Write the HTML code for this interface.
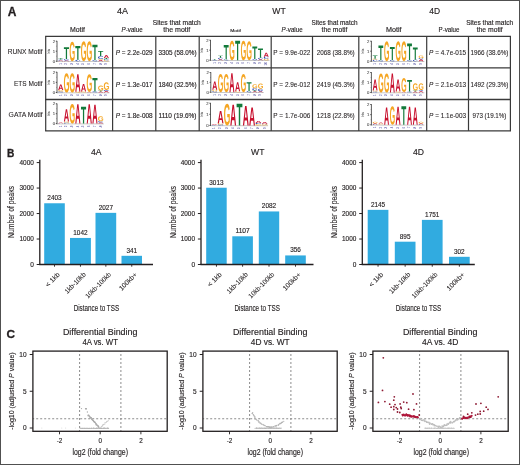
<!DOCTYPE html>
<html><head><meta charset="utf-8"><style>
html,body{margin:0;padding:0;background:#fff;width:520px;height:465px;overflow:hidden;}
svg{display:block;will-change:transform;}
text{font-family:"Liberation Sans", sans-serif;}
</style></head><body>
<svg width="520" height="465" viewBox="0 0 520 465">
<defs><path id="gA" d="M1133 0 1008 360H471L346 0H51L565 1409H913L1425 0ZM739 1192 733 1170Q723 1134 709.0 1088.0Q695 1042 537 582H942L803 987L760 1123Z"/><path id="gC" d="M795 212Q1062 212 1166 480L1423 383Q1340 179 1179.5 79.5Q1019 -20 795 -20Q455 -20 269.5 172.5Q84 365 84 711Q84 1058 263.0 1244.0Q442 1430 782 1430Q1030 1430 1186.0 1330.5Q1342 1231 1405 1038L1145 967Q1112 1073 1015.5 1135.5Q919 1198 788 1198Q588 1198 484.5 1074.0Q381 950 381 711Q381 468 487.5 340.0Q594 212 795 212Z"/><path id="gG" d="M806 211Q921 211 1029.0 244.5Q1137 278 1196 330V525H852V743H1466V225Q1354 110 1174.5 45.0Q995 -20 798 -20Q454 -20 269.0 170.5Q84 361 84 711Q84 1059 270.0 1244.5Q456 1430 805 1430Q1301 1430 1436 1063L1164 981Q1120 1088 1026.0 1143.0Q932 1198 805 1198Q597 1198 489.0 1072.0Q381 946 381 711Q381 472 492.5 341.5Q604 211 806 211Z"/><path id="gT" d="M773 1181V0H478V1181H23V1409H1229V1181Z"/></defs>
<rect width="520" height="465" fill="#fff"/>
<g fill="#231f20" font-family='"Liberation Sans", sans-serif'>
<rect x="0.5" y="0.5" width="519" height="464" fill="none" stroke="#505050" stroke-width="1"/>
<text x="7.80" y="16.10" font-size="12" stroke="#231f20" stroke-width="0.3" font-weight="bold">A</text>
<text x="122.60" y="13.50" font-size="8.2" stroke="#231f20" stroke-width="0.14" text-anchor="middle" textLength="11" lengthAdjust="spacingAndGlyphs">4A</text>
<text x="279.00" y="13.70" font-size="8.2" stroke="#231f20" stroke-width="0.14" text-anchor="middle" textLength="13.4" lengthAdjust="spacingAndGlyphs">WT</text>
<text x="434.60" y="13.50" font-size="8.2" stroke="#231f20" stroke-width="0.14" text-anchor="middle" textLength="10.8" lengthAdjust="spacingAndGlyphs">4D</text>
<text x="77.50" y="31.90" font-size="6.3" stroke="#231f20" stroke-width="0.14" text-anchor="middle" textLength="15" lengthAdjust="spacingAndGlyphs">Motif</text>
<text x="121.60" y="32.20" font-size="6.3" stroke="#231f20" stroke-width="0.14" textLength="21" lengthAdjust="spacingAndGlyphs"><tspan font-style="italic">P</tspan>-value</text>
<text x="176.80" y="24.50" font-size="6.3" stroke="#231f20" stroke-width="0.14" text-anchor="middle" textLength="48" lengthAdjust="spacingAndGlyphs">Sites that match</text>
<text x="176.80" y="32.20" font-size="6.3" stroke="#231f20" stroke-width="0.14" text-anchor="middle" textLength="27" lengthAdjust="spacingAndGlyphs">the motif</text>
<text x="235.60" y="32.00" font-size="4.4" stroke="#231f20" stroke-width="0.14" text-anchor="middle" textLength="10.8" lengthAdjust="spacingAndGlyphs">Motif</text>
<text x="281.60" y="32.20" font-size="6.3" stroke="#231f20" stroke-width="0.14" textLength="21" lengthAdjust="spacingAndGlyphs"><tspan font-style="italic">P</tspan>-value</text>
<text x="334.50" y="24.50" font-size="6.3" stroke="#231f20" stroke-width="0.14" text-anchor="middle" textLength="46" lengthAdjust="spacingAndGlyphs">Sites that match</text>
<text x="334.50" y="32.20" font-size="6.3" stroke="#231f20" stroke-width="0.14" text-anchor="middle" textLength="26" lengthAdjust="spacingAndGlyphs">the motif</text>
<text x="393.80" y="31.90" font-size="6.3" stroke="#231f20" stroke-width="0.14" text-anchor="middle" textLength="15.6" lengthAdjust="spacingAndGlyphs">Motif</text>
<text x="438.50" y="32.20" font-size="6.3" stroke="#231f20" stroke-width="0.14" textLength="21" lengthAdjust="spacingAndGlyphs">P-value</text>
<text x="489.70" y="24.50" font-size="6.3" stroke="#231f20" stroke-width="0.14" text-anchor="middle" textLength="47" lengthAdjust="spacingAndGlyphs">Sites that match</text>
<text x="489.70" y="32.20" font-size="6.3" stroke="#231f20" stroke-width="0.14" text-anchor="middle" textLength="26" lengthAdjust="spacingAndGlyphs">the motif</text>
<text x="42.60" y="54.15" font-size="6.8" stroke="#231f20" stroke-width="0.08" text-anchor="end" textLength="34.8" lengthAdjust="spacingAndGlyphs">RUNX Motif</text>
<text x="42.60" y="85.70" font-size="6.8" stroke="#231f20" stroke-width="0.08" text-anchor="end" textLength="28.6" lengthAdjust="spacingAndGlyphs">ETS Motif</text>
<text x="42.60" y="117.20" font-size="6.8" stroke="#231f20" stroke-width="0.08" text-anchor="end" textLength="34" lengthAdjust="spacingAndGlyphs">GATA Motif</text>
<line x1="45.1" y1="36.4" x2="511.0" y2="36.4" stroke="#3a3a3a" stroke-width="1.4"/>
<line x1="45.1" y1="67.9" x2="511.0" y2="67.9" stroke="#3a3a3a" stroke-width="1.4"/>
<line x1="45.1" y1="99.5" x2="511.0" y2="99.5" stroke="#3a3a3a" stroke-width="1.4"/>
<line x1="45.1" y1="130.9" x2="511.0" y2="130.9" stroke="#3a3a3a" stroke-width="1.4"/>
<line x1="45.7" y1="36.4" x2="45.7" y2="130.9" stroke="#3a3a3a" stroke-width="1.2"/>
<line x1="112.6" y1="36.4" x2="112.6" y2="130.9" stroke="#3a3a3a" stroke-width="1.2"/>
<line x1="155.8" y1="36.4" x2="155.8" y2="130.9" stroke="#3a3a3a" stroke-width="1.2"/>
<line x1="199.2" y1="36.4" x2="199.2" y2="130.9" stroke="#3a3a3a" stroke-width="1.2"/>
<line x1="271.2" y1="36.4" x2="271.2" y2="130.9" stroke="#3a3a3a" stroke-width="1.2"/>
<line x1="312.5" y1="36.4" x2="312.5" y2="130.9" stroke="#3a3a3a" stroke-width="1.2"/>
<line x1="358.8" y1="36.4" x2="358.8" y2="130.9" stroke="#3a3a3a" stroke-width="1.2"/>
<line x1="426.7" y1="36.4" x2="426.7" y2="130.9" stroke="#3a3a3a" stroke-width="1.2"/>
<line x1="468.5" y1="36.4" x2="468.5" y2="130.9" stroke="#3a3a3a" stroke-width="1.2"/>
<line x1="510.4" y1="36.4" x2="510.4" y2="130.9" stroke="#3a3a3a" stroke-width="1.2"/>
<text x="134.20" y="54.95" font-size="6.3" stroke="#231f20" stroke-width="0.14" text-anchor="middle" textLength="37" lengthAdjust="spacingAndGlyphs"><tspan font-style="italic">P</tspan> = 2.2e-029</text>
<text x="177.50" y="54.95" font-size="6.3" stroke="#231f20" stroke-width="0.14" text-anchor="middle" textLength="38" lengthAdjust="spacingAndGlyphs">3305 (58.0%)</text>
<text x="134.20" y="86.50" font-size="6.3" stroke="#231f20" stroke-width="0.14" text-anchor="middle" textLength="37" lengthAdjust="spacingAndGlyphs"><tspan font-style="italic">P</tspan> = 1.3e-017</text>
<text x="177.50" y="86.50" font-size="6.3" stroke="#231f20" stroke-width="0.14" text-anchor="middle" textLength="38" lengthAdjust="spacingAndGlyphs">1840 (32.5%)</text>
<text x="134.20" y="118.00" font-size="6.3" stroke="#231f20" stroke-width="0.14" text-anchor="middle" textLength="37" lengthAdjust="spacingAndGlyphs"><tspan font-style="italic">P</tspan> = 1.8e-008</text>
<text x="177.50" y="118.00" font-size="6.3" stroke="#231f20" stroke-width="0.14" text-anchor="middle" textLength="38" lengthAdjust="spacingAndGlyphs">1110 (19.6%)</text>
<text x="291.85" y="54.95" font-size="6.3" stroke="#231f20" stroke-width="0.08" text-anchor="middle" textLength="37" lengthAdjust="spacingAndGlyphs">P = 9.9e-022</text>
<text x="335.65" y="54.95" font-size="6.3" stroke="#231f20" stroke-width="0.08" text-anchor="middle" textLength="38" lengthAdjust="spacingAndGlyphs">2068 (38.8%)</text>
<text x="291.85" y="86.50" font-size="6.3" stroke="#231f20" stroke-width="0.08" text-anchor="middle" textLength="37" lengthAdjust="spacingAndGlyphs">P = 2.9e-012</text>
<text x="335.65" y="86.50" font-size="6.3" stroke="#231f20" stroke-width="0.08" text-anchor="middle" textLength="38" lengthAdjust="spacingAndGlyphs">2419 (45.3%)</text>
<text x="291.85" y="118.00" font-size="6.3" stroke="#231f20" stroke-width="0.08" text-anchor="middle" textLength="37" lengthAdjust="spacingAndGlyphs">P = 1.7e-006</text>
<text x="335.65" y="118.00" font-size="6.3" stroke="#231f20" stroke-width="0.08" text-anchor="middle" textLength="38" lengthAdjust="spacingAndGlyphs">1218 (22.8%)</text>
<text x="447.60" y="54.95" font-size="6.3" stroke="#231f20" stroke-width="0.08" text-anchor="middle" textLength="37" lengthAdjust="spacingAndGlyphs"><tspan font-style="italic">P</tspan> = 4.7e-015</text>
<text x="489.45" y="54.95" font-size="6.3" stroke="#231f20" stroke-width="0.08" text-anchor="middle" textLength="38" lengthAdjust="spacingAndGlyphs">1966 (38.6%)</text>
<text x="447.60" y="86.50" font-size="6.3" stroke="#231f20" stroke-width="0.08" text-anchor="middle" textLength="37" lengthAdjust="spacingAndGlyphs"><tspan font-style="italic">P</tspan> = 2.1e-013</text>
<text x="489.45" y="86.50" font-size="6.3" stroke="#231f20" stroke-width="0.08" text-anchor="middle" textLength="38" lengthAdjust="spacingAndGlyphs">1492 (29.3%)</text>
<text x="447.60" y="118.00" font-size="6.3" stroke="#231f20" stroke-width="0.08" text-anchor="middle" textLength="37" lengthAdjust="spacingAndGlyphs"><tspan font-style="italic">P</tspan> = 1.1e-003</text>
<text x="489.45" y="118.00" font-size="6.3" stroke="#231f20" stroke-width="0.08" text-anchor="middle" textLength="34" lengthAdjust="spacingAndGlyphs">973 (19.1%)</text>
<line x1="57.0" y1="40.900000000000006" x2="57.0" y2="61.800000000000004" stroke="#333" stroke-width="0.8"/>
<line x1="55.8" y1="61.2" x2="57.0" y2="61.2" stroke="#333" stroke-width="0.8"/>
<text x="55.00" y="62.70" font-size="4.2" stroke="#555" stroke-width="0.1" text-anchor="end" fill="#555">0</text>
<line x1="55.8" y1="51.2" x2="57.0" y2="51.2" stroke="#333" stroke-width="0.8"/>
<text x="55.00" y="52.70" font-size="4.2" stroke="#555" stroke-width="0.1" text-anchor="end" fill="#555">1</text>
<line x1="55.8" y1="41.2" x2="57.0" y2="41.2" stroke="#333" stroke-width="0.8"/>
<text x="55.00" y="42.70" font-size="4.2" stroke="#555" stroke-width="0.1" text-anchor="end" fill="#555">2</text>
<line x1="56.3" y1="56.2" x2="57.0" y2="56.2" stroke="#555" stroke-width="0.5"/>
<line x1="56.3" y1="46.2" x2="57.0" y2="46.2" stroke="#555" stroke-width="0.5"/>
<text x="50.00" y="51.20" font-size="3.0" stroke="#555" stroke-width="0.1" text-anchor="middle" fill="#555" transform="rotate(-90 50.00 51.20)">bits</text>
<line x1="57.0" y1="61.5" x2="109.5" y2="61.5" stroke="#777" stroke-width="0.4"/>
<use href="#gA" fill="#c8102e" transform="translate(58.20 61.20) scale(0.003712 -0.000426) translate(-51 0)"/>
<use href="#gC" fill="#1f3fae" transform="translate(58.20 60.60) scale(0.003809 -0.000690) translate(-84 20)"/>
<use href="#gT" fill="#127a3a" transform="translate(58.20 59.60) scale(0.004229 -0.000994) translate(-23 0)"/>
<text x="61.65" y="63.10" font-size="3.0" stroke="#5b58a6" stroke-width="0.05" text-anchor="end" fill="#5b58a6" transform="rotate(-90 61.65 63.10)">1</text>
<use href="#gA" fill="#c8102e" transform="translate(63.90 61.20) scale(0.003712 -0.000568) translate(-51 0)"/>
<use href="#gC" fill="#1f3fae" transform="translate(63.90 60.40) scale(0.003809 -0.000966) translate(-84 20)"/>
<use href="#gT" fill="#127a3a" transform="translate(63.90 59.00) scale(0.004229 -0.008375) translate(-23 0)"/>
<text x="67.35" y="63.10" font-size="3.0" stroke="#5b58a6" stroke-width="0.05" text-anchor="end" fill="#5b58a6" transform="rotate(-90 67.35 63.10)">2</text>
<use href="#gG" fill="#f5a623" transform="translate(69.60 61.20) scale(0.003690 -0.013448) translate(-84 20)"/>
<text x="73.05" y="63.10" font-size="3.0" stroke="#5b58a6" stroke-width="0.05" text-anchor="end" fill="#5b58a6" transform="rotate(-90 73.05 63.10)">3</text>
<use href="#gC" fill="#1f3fae" transform="translate(75.30 61.20) scale(0.003809 -0.000966) translate(-84 20)"/>
<use href="#gT" fill="#127a3a" transform="translate(75.30 59.80) scale(0.004229 -0.009723) translate(-23 0)"/>
<text x="78.75" y="63.10" font-size="3.0" stroke="#5b58a6" stroke-width="0.05" text-anchor="end" fill="#5b58a6" transform="rotate(-90 78.75 63.10)">4</text>
<use href="#gG" fill="#f5a623" transform="translate(81.00 61.20) scale(0.003690 -0.013793) translate(-84 20)"/>
<text x="84.45" y="63.10" font-size="3.0" stroke="#5b58a6" stroke-width="0.05" text-anchor="end" fill="#5b58a6" transform="rotate(-90 84.45 63.10)">5</text>
<use href="#gG" fill="#f5a623" transform="translate(86.70 61.20) scale(0.003690 -0.013793) translate(-84 20)"/>
<text x="90.15" y="63.10" font-size="3.0" stroke="#5b58a6" stroke-width="0.05" text-anchor="end" fill="#5b58a6" transform="rotate(-90 90.15 63.10)">6</text>
<use href="#gC" fill="#1f3fae" transform="translate(92.40 61.20) scale(0.003809 -0.000690) translate(-84 20)"/>
<use href="#gT" fill="#127a3a" transform="translate(92.40 60.20) scale(0.004229 -0.010930) translate(-23 0)"/>
<text x="95.85" y="63.10" font-size="3.0" stroke="#5b58a6" stroke-width="0.05" text-anchor="end" fill="#5b58a6" transform="rotate(-90 95.85 63.10)">7</text>
<use href="#gA" fill="#c8102e" transform="translate(98.10 61.20) scale(0.003712 -0.000852) translate(-51 0)"/>
<use href="#gG" fill="#f5a623" transform="translate(98.10 60.00) scale(0.003690 -0.000690) translate(-84 20)"/>
<use href="#gC" fill="#1f3fae" transform="translate(98.10 59.00) scale(0.003809 -0.002069) translate(-84 20)"/>
<use href="#gT" fill="#127a3a" transform="translate(98.10 56.00) scale(0.004229 -0.003620) translate(-23 0)"/>
<text x="101.55" y="63.10" font-size="3.0" stroke="#5b58a6" stroke-width="0.05" text-anchor="end" fill="#5b58a6" transform="rotate(-90 101.55 63.10)">8</text>
<use href="#gG" fill="#f5a623" transform="translate(103.80 61.20) scale(0.003690 -0.000690) translate(-84 20)"/>
<use href="#gC" fill="#1f3fae" transform="translate(103.80 60.20) scale(0.003809 -0.000690) translate(-84 20)"/>
<use href="#gT" fill="#127a3a" transform="translate(103.80 59.20) scale(0.004229 -0.000852) translate(-23 0)"/>
<use href="#gA" fill="#c8102e" transform="translate(103.80 58.00) scale(0.003712 -0.002058) translate(-51 0)"/>
<text x="107.25" y="63.10" font-size="3.0" stroke="#5b58a6" stroke-width="0.05" text-anchor="end" fill="#5b58a6" transform="rotate(-90 107.25 63.10)">9</text>
<line x1="57.0" y1="71.9" x2="57.0" y2="93.1" stroke="#333" stroke-width="0.8"/>
<line x1="55.8" y1="92.5" x2="57.0" y2="92.5" stroke="#333" stroke-width="0.8"/>
<text x="55.00" y="94.00" font-size="4.2" stroke="#555" stroke-width="0.1" text-anchor="end" fill="#555">0</text>
<line x1="55.8" y1="82.35" x2="57.0" y2="82.35" stroke="#333" stroke-width="0.8"/>
<text x="55.00" y="83.85" font-size="4.2" stroke="#555" stroke-width="0.1" text-anchor="end" fill="#555">1</text>
<line x1="55.8" y1="72.2" x2="57.0" y2="72.2" stroke="#333" stroke-width="0.8"/>
<text x="55.00" y="73.70" font-size="4.2" stroke="#555" stroke-width="0.1" text-anchor="end" fill="#555">2</text>
<line x1="56.3" y1="87.425" x2="57.0" y2="87.425" stroke="#555" stroke-width="0.5"/>
<line x1="56.3" y1="77.275" x2="57.0" y2="77.275" stroke="#555" stroke-width="0.5"/>
<text x="50.00" y="82.35" font-size="3.0" stroke="#555" stroke-width="0.1" text-anchor="middle" fill="#555" transform="rotate(-90 50.00 82.35)">bits</text>
<line x1="57.0" y1="92.8" x2="109.5" y2="92.8" stroke="#777" stroke-width="0.4"/>
<use href="#gC" fill="#1f3fae" transform="translate(58.20 92.50) scale(0.003809 -0.000700) translate(-84 20)"/>
<use href="#gG" fill="#f5a623" transform="translate(58.20 91.48) scale(0.003690 -0.000980) translate(-84 20)"/>
<use href="#gA" fill="#c8102e" transform="translate(58.20 90.06) scale(0.003712 -0.003962) translate(-51 0)"/>
<text x="61.65" y="94.40" font-size="3.0" stroke="#5b58a6" stroke-width="0.05" text-anchor="end" fill="#5b58a6" transform="rotate(-90 61.65 94.40)">1</text>
<use href="#gG" fill="#f5a623" transform="translate(63.90 92.50) scale(0.003690 -0.013300) translate(-84 20)"/>
<text x="67.35" y="94.40" font-size="3.0" stroke="#5b58a6" stroke-width="0.05" text-anchor="end" fill="#5b58a6" transform="rotate(-90 67.35 94.40)">2</text>
<use href="#gG" fill="#f5a623" transform="translate(69.60 92.50) scale(0.003690 -0.013300) translate(-84 20)"/>
<text x="73.05" y="94.40" font-size="3.0" stroke="#5b58a6" stroke-width="0.05" text-anchor="end" fill="#5b58a6" transform="rotate(-90 73.05 94.40)">3</text>
<use href="#gG" fill="#f5a623" transform="translate(75.30 92.50) scale(0.003690 -0.000560) translate(-84 20)"/>
<use href="#gA" fill="#c8102e" transform="translate(75.30 91.69) scale(0.003712 -0.012318) translate(-51 0)"/>
<text x="78.75" y="94.40" font-size="3.0" stroke="#5b58a6" stroke-width="0.05" text-anchor="end" fill="#5b58a6" transform="rotate(-90 78.75 94.40)">4</text>
<use href="#gG" fill="#f5a623" transform="translate(81.00 92.50) scale(0.003690 -0.000700) translate(-84 20)"/>
<use href="#gA" fill="#c8102e" transform="translate(81.00 91.48) scale(0.003712 -0.005331) translate(-51 0)"/>
<text x="84.45" y="94.40" font-size="3.0" stroke="#5b58a6" stroke-width="0.05" text-anchor="end" fill="#5b58a6" transform="rotate(-90 84.45 94.40)">5</text>
<use href="#gA" fill="#c8102e" transform="translate(86.70 92.50) scale(0.003712 -0.000360) translate(-51 0)"/>
<use href="#gG" fill="#f5a623" transform="translate(86.70 91.99) scale(0.003690 -0.012180) translate(-84 20)"/>
<text x="90.15" y="94.40" font-size="3.0" stroke="#5b58a6" stroke-width="0.05" text-anchor="end" fill="#5b58a6" transform="rotate(-90 90.15 94.40)">6</text>
<use href="#gC" fill="#1f3fae" transform="translate(92.40 92.50) scale(0.003809 -0.000700) translate(-84 20)"/>
<use href="#gT" fill="#127a3a" transform="translate(92.40 91.48) scale(0.004229 -0.009509) translate(-23 0)"/>
<text x="95.85" y="94.40" font-size="3.0" stroke="#5b58a6" stroke-width="0.05" text-anchor="end" fill="#5b58a6" transform="rotate(-90 95.85 94.40)">7</text>
<use href="#gA" fill="#c8102e" transform="translate(98.10 92.50) scale(0.003712 -0.000720) translate(-51 0)"/>
<use href="#gT" fill="#127a3a" transform="translate(98.10 91.48) scale(0.004229 -0.000720) translate(-23 0)"/>
<use href="#gG" fill="#f5a623" transform="translate(98.10 90.47) scale(0.003690 -0.003360) translate(-84 20)"/>
<text x="101.55" y="94.40" font-size="3.0" stroke="#5b58a6" stroke-width="0.05" text-anchor="end" fill="#5b58a6" transform="rotate(-90 101.55 94.40)">8</text>
<use href="#gA" fill="#c8102e" transform="translate(103.80 92.50) scale(0.003712 -0.001081) translate(-51 0)"/>
<use href="#gC" fill="#1f3fae" transform="translate(103.80 90.98) scale(0.003809 -0.000700) translate(-84 20)"/>
<use href="#gG" fill="#f5a623" transform="translate(103.80 89.96) scale(0.003690 -0.005250) translate(-84 20)"/>
<text x="107.25" y="94.40" font-size="3.0" stroke="#5b58a6" stroke-width="0.05" text-anchor="end" fill="#5b58a6" transform="rotate(-90 107.25 94.40)">9</text>
<line x1="57.0" y1="103.5" x2="57.0" y2="124.19999999999999" stroke="#333" stroke-width="0.8"/>
<line x1="55.8" y1="123.6" x2="57.0" y2="123.6" stroke="#333" stroke-width="0.8"/>
<text x="55.00" y="125.10" font-size="4.2" stroke="#555" stroke-width="0.1" text-anchor="end" fill="#555">0</text>
<line x1="55.8" y1="113.69999999999999" x2="57.0" y2="113.69999999999999" stroke="#333" stroke-width="0.8"/>
<text x="55.00" y="115.20" font-size="4.2" stroke="#555" stroke-width="0.1" text-anchor="end" fill="#555">1</text>
<line x1="55.8" y1="103.8" x2="57.0" y2="103.8" stroke="#333" stroke-width="0.8"/>
<text x="55.00" y="105.30" font-size="4.2" stroke="#555" stroke-width="0.1" text-anchor="end" fill="#555">2</text>
<line x1="56.3" y1="118.64999999999999" x2="57.0" y2="118.64999999999999" stroke="#555" stroke-width="0.5"/>
<line x1="56.3" y1="108.75" x2="57.0" y2="108.75" stroke="#555" stroke-width="0.5"/>
<text x="50.00" y="113.70" font-size="3.0" stroke="#555" stroke-width="0.1" text-anchor="middle" fill="#555" transform="rotate(-90 50.00 113.70)">bits</text>
<line x1="57.0" y1="123.89999999999999" x2="103.80000000000001" y2="123.89999999999999" stroke="#777" stroke-width="0.4"/>
<use href="#gC" fill="#1f3fae" transform="translate(58.20 123.60) scale(0.003809 -0.000273) translate(-84 20)"/>
<use href="#gA" fill="#c8102e" transform="translate(58.20 123.20) scale(0.003712 -0.000422) translate(-51 0)"/>
<text x="61.65" y="125.50" font-size="3.0" stroke="#5b58a6" stroke-width="0.05" text-anchor="end" fill="#5b58a6" transform="rotate(-90 61.65 125.50)">1</text>
<use href="#gC" fill="#1f3fae" transform="translate(63.90 123.60) scale(0.003809 -0.000683) translate(-84 20)"/>
<use href="#gG" fill="#f5a623" transform="translate(63.90 122.61) scale(0.003690 -0.000683) translate(-84 20)"/>
<use href="#gA" fill="#c8102e" transform="translate(63.90 121.62) scale(0.003712 -0.008783) translate(-51 0)"/>
<text x="67.35" y="125.50" font-size="3.0" stroke="#5b58a6" stroke-width="0.05" text-anchor="end" fill="#5b58a6" transform="rotate(-90 67.35 125.50)">2</text>
<use href="#gG" fill="#f5a623" transform="translate(69.60 123.60) scale(0.003690 -0.013450) translate(-84 20)"/>
<text x="73.05" y="125.50" font-size="3.0" stroke="#5b58a6" stroke-width="0.05" text-anchor="end" fill="#5b58a6" transform="rotate(-90 73.05 125.50)">3</text>
<use href="#gA" fill="#c8102e" transform="translate(75.30 123.60) scale(0.003712 -0.013701) translate(-51 0)"/>
<text x="78.75" y="125.50" font-size="3.0" stroke="#5b58a6" stroke-width="0.05" text-anchor="end" fill="#5b58a6" transform="rotate(-90 78.75 125.50)">4</text>
<use href="#gT" fill="#127a3a" transform="translate(81.00 123.60) scale(0.004229 -0.012015) translate(-23 0)"/>
<text x="84.45" y="125.50" font-size="3.0" stroke="#5b58a6" stroke-width="0.05" text-anchor="end" fill="#5b58a6" transform="rotate(-90 84.45 125.50)">5</text>
<use href="#gA" fill="#c8102e" transform="translate(86.70 123.60) scale(0.003712 -0.013701) translate(-51 0)"/>
<text x="90.15" y="125.50" font-size="3.0" stroke="#5b58a6" stroke-width="0.05" text-anchor="end" fill="#5b58a6" transform="rotate(-90 90.15 125.50)">6</text>
<use href="#gA" fill="#c8102e" transform="translate(92.40 123.60) scale(0.003712 -0.013420) translate(-51 0)"/>
<text x="95.85" y="125.50" font-size="3.0" stroke="#5b58a6" stroke-width="0.05" text-anchor="end" fill="#5b58a6" transform="rotate(-90 95.85 125.50)">7</text>
<use href="#gA" fill="#c8102e" transform="translate(98.10 123.60) scale(0.003712 -0.000843) translate(-51 0)"/>
<use href="#gC" fill="#1f3fae" transform="translate(98.10 122.41) scale(0.003809 -0.000819) translate(-84 20)"/>
<use href="#gG" fill="#f5a623" transform="translate(98.10 121.22) scale(0.003690 -0.003482) translate(-84 20)"/>
<text x="101.55" y="125.50" font-size="3.0" stroke="#5b58a6" stroke-width="0.05" text-anchor="end" fill="#5b58a6" transform="rotate(-90 101.55 125.50)">8</text>
<line x1="210.5" y1="39.900000000000006" x2="210.5" y2="60.800000000000004" stroke="#333" stroke-width="0.8"/>
<line x1="209.3" y1="60.2" x2="210.5" y2="60.2" stroke="#333" stroke-width="0.8"/>
<text x="208.50" y="61.70" font-size="4.2" stroke="#555" stroke-width="0.1" text-anchor="end" fill="#555">0</text>
<line x1="209.3" y1="50.2" x2="210.5" y2="50.2" stroke="#333" stroke-width="0.8"/>
<text x="208.50" y="51.70" font-size="4.2" stroke="#555" stroke-width="0.1" text-anchor="end" fill="#555">1</text>
<line x1="209.3" y1="40.2" x2="210.5" y2="40.2" stroke="#333" stroke-width="0.8"/>
<text x="208.50" y="41.70" font-size="4.2" stroke="#555" stroke-width="0.1" text-anchor="end" fill="#555">2</text>
<line x1="209.8" y1="55.2" x2="210.5" y2="55.2" stroke="#555" stroke-width="0.5"/>
<line x1="209.8" y1="45.2" x2="210.5" y2="45.2" stroke="#555" stroke-width="0.5"/>
<text x="203.50" y="50.20" font-size="3.0" stroke="#555" stroke-width="0.1" text-anchor="middle" fill="#555" transform="rotate(-90 203.50 50.20)">bits</text>
<line x1="210.5" y1="60.5" x2="269.5" y2="60.5" stroke="#777" stroke-width="0.4"/>
<use href="#gC" fill="#1f3fae" transform="translate(212.30 60.20) scale(0.003659 -0.000345) translate(-84 20)"/>
<use href="#gT" fill="#127a3a" transform="translate(212.30 59.70) scale(0.004063 -0.000497) translate(-23 0)"/>
<text x="215.65" y="62.10" font-size="3.0" stroke="#5b58a6" stroke-width="0.05" text-anchor="end" fill="#5b58a6" transform="rotate(-90 215.65 62.10)">1</text>
<use href="#gA" fill="#c8102e" transform="translate(218.02 60.20) scale(0.003566 -0.000710) translate(-51 0)"/>
<use href="#gC" fill="#1f3fae" transform="translate(218.02 59.20) scale(0.003659 -0.001034) translate(-84 20)"/>
<use href="#gT" fill="#127a3a" transform="translate(218.02 57.70) scale(0.004063 -0.001419) translate(-23 0)"/>
<text x="221.37" y="62.10" font-size="3.0" stroke="#5b58a6" stroke-width="0.05" text-anchor="end" fill="#5b58a6" transform="rotate(-90 221.37 62.10)">2</text>
<use href="#gC" fill="#1f3fae" transform="translate(223.74 60.20) scale(0.003659 -0.000552) translate(-84 20)"/>
<use href="#gT" fill="#127a3a" transform="translate(223.74 59.40) scale(0.004063 -0.010149) translate(-23 0)"/>
<text x="227.09" y="62.10" font-size="3.0" stroke="#5b58a6" stroke-width="0.05" text-anchor="end" fill="#5b58a6" transform="rotate(-90 227.09 62.10)">3</text>
<use href="#gG" fill="#f5a623" transform="translate(229.46 60.20) scale(0.003546 -0.013448) translate(-84 20)"/>
<text x="232.81" y="62.10" font-size="3.0" stroke="#5b58a6" stroke-width="0.05" text-anchor="end" fill="#5b58a6" transform="rotate(-90 232.81 62.10)">4</text>
<use href="#gT" fill="#127a3a" transform="translate(235.18 60.20) scale(0.004063 -0.013840) translate(-23 0)"/>
<text x="238.53" y="62.10" font-size="3.0" stroke="#5b58a6" stroke-width="0.05" text-anchor="end" fill="#5b58a6" transform="rotate(-90 238.53 62.10)">5</text>
<use href="#gG" fill="#f5a623" transform="translate(240.90 60.20) scale(0.003546 -0.013448) translate(-84 20)"/>
<text x="244.25" y="62.10" font-size="3.0" stroke="#5b58a6" stroke-width="0.05" text-anchor="end" fill="#5b58a6" transform="rotate(-90 244.25 62.10)">6</text>
<use href="#gG" fill="#f5a623" transform="translate(246.62 60.20) scale(0.003546 -0.013103) translate(-84 20)"/>
<text x="249.97" y="62.10" font-size="3.0" stroke="#5b58a6" stroke-width="0.05" text-anchor="end" fill="#5b58a6" transform="rotate(-90 249.97 62.10)">7</text>
<use href="#gC" fill="#1f3fae" transform="translate(252.34 60.20) scale(0.003659 -0.000828) translate(-84 20)"/>
<use href="#gT" fill="#127a3a" transform="translate(252.34 59.00) scale(0.004063 -0.008872) translate(-23 0)"/>
<text x="255.69" y="62.10" font-size="3.0" stroke="#5b58a6" stroke-width="0.05" text-anchor="end" fill="#5b58a6" transform="rotate(-90 255.69 62.10)">8</text>
<use href="#gA" fill="#c8102e" transform="translate(258.06 60.20) scale(0.003566 -0.000710) translate(-51 0)"/>
<use href="#gC" fill="#1f3fae" transform="translate(258.06 59.20) scale(0.003659 -0.001034) translate(-84 20)"/>
<use href="#gT" fill="#127a3a" transform="translate(258.06 57.70) scale(0.004063 -0.006458) translate(-23 0)"/>
<text x="261.41" y="62.10" font-size="3.0" stroke="#5b58a6" stroke-width="0.05" text-anchor="end" fill="#5b58a6" transform="rotate(-90 261.41 62.10)">9</text>
<use href="#gG" fill="#f5a623" transform="translate(263.78 60.20) scale(0.003546 -0.001034) translate(-84 20)"/>
<use href="#gC" fill="#1f3fae" transform="translate(263.78 58.70) scale(0.003659 -0.001379) translate(-84 20)"/>
<use href="#gA" fill="#c8102e" transform="translate(263.78 56.70) scale(0.003566 -0.002768) translate(-51 0)"/>
<text x="267.13" y="62.10" font-size="3.0" stroke="#5b58a6" stroke-width="0.05" text-anchor="end" fill="#5b58a6" transform="rotate(-90 267.13 62.10)">10</text>
<line x1="210.79999999999998" y1="72.2" x2="210.79999999999998" y2="92.8" stroke="#333" stroke-width="0.8"/>
<line x1="209.6" y1="92.2" x2="210.79999999999998" y2="92.2" stroke="#333" stroke-width="0.8"/>
<text x="208.80" y="93.70" font-size="4.2" stroke="#555" stroke-width="0.1" text-anchor="end" fill="#555">0</text>
<line x1="209.6" y1="82.35" x2="210.79999999999998" y2="82.35" stroke="#333" stroke-width="0.8"/>
<text x="208.80" y="83.85" font-size="4.2" stroke="#555" stroke-width="0.1" text-anchor="end" fill="#555">1</text>
<line x1="209.6" y1="72.5" x2="210.79999999999998" y2="72.5" stroke="#333" stroke-width="0.8"/>
<text x="208.80" y="74.00" font-size="4.2" stroke="#555" stroke-width="0.1" text-anchor="end" fill="#555">2</text>
<line x1="210.1" y1="87.275" x2="210.79999999999998" y2="87.275" stroke="#555" stroke-width="0.5"/>
<line x1="210.1" y1="77.425" x2="210.79999999999998" y2="77.425" stroke="#555" stroke-width="0.5"/>
<text x="203.80" y="82.35" font-size="3.0" stroke="#555" stroke-width="0.1" text-anchor="middle" fill="#555" transform="rotate(-90 203.80 82.35)">bits</text>
<line x1="210.79999999999998" y1="92.5" x2="263.78" y2="92.5" stroke="#777" stroke-width="0.4"/>
<use href="#gC" fill="#1f3fae" transform="translate(212.30 92.20) scale(0.003659 -0.000679) translate(-84 20)"/>
<use href="#gG" fill="#f5a623" transform="translate(212.30 91.22) scale(0.003546 -0.001019) translate(-84 20)"/>
<use href="#gA" fill="#c8102e" transform="translate(212.30 89.74) scale(0.003566 -0.005872) translate(-51 0)"/>
<text x="215.65" y="94.10" font-size="3.0" stroke="#5b58a6" stroke-width="0.05" text-anchor="end" fill="#5b58a6" transform="rotate(-90 215.65 94.10)">1</text>
<use href="#gG" fill="#f5a623" transform="translate(218.02 92.20) scale(0.003546 -0.012635) translate(-84 20)"/>
<text x="221.37" y="94.10" font-size="3.0" stroke="#5b58a6" stroke-width="0.05" text-anchor="end" fill="#5b58a6" transform="rotate(-90 221.37 94.10)">2</text>
<use href="#gG" fill="#f5a623" transform="translate(223.74 92.20) scale(0.003546 -0.012635) translate(-84 20)"/>
<text x="227.09" y="94.10" font-size="3.0" stroke="#5b58a6" stroke-width="0.05" text-anchor="end" fill="#5b58a6" transform="rotate(-90 227.09 94.10)">3</text>
<use href="#gA" fill="#c8102e" transform="translate(229.46 92.20) scale(0.003566 -0.013492) translate(-51 0)"/>
<text x="232.81" y="94.10" font-size="3.0" stroke="#5b58a6" stroke-width="0.05" text-anchor="end" fill="#5b58a6" transform="rotate(-90 232.81 94.10)">4</text>
<use href="#gG" fill="#f5a623" transform="translate(235.18 92.20) scale(0.003546 -0.000679) translate(-84 20)"/>
<use href="#gA" fill="#c8102e" transform="translate(235.18 91.22) scale(0.003566 -0.006432) translate(-51 0)"/>
<text x="238.53" y="94.10" font-size="3.0" stroke="#5b58a6" stroke-width="0.05" text-anchor="end" fill="#5b58a6" transform="rotate(-90 238.53 94.10)">5</text>
<use href="#gG" fill="#f5a623" transform="translate(240.90 92.20) scale(0.003546 -0.012635) translate(-84 20)"/>
<text x="244.25" y="94.10" font-size="3.0" stroke="#5b58a6" stroke-width="0.05" text-anchor="end" fill="#5b58a6" transform="rotate(-90 244.25 94.10)">6</text>
<use href="#gC" fill="#1f3fae" transform="translate(246.62 92.20) scale(0.003659 -0.000679) translate(-84 20)"/>
<use href="#gT" fill="#127a3a" transform="translate(246.62 91.22) scale(0.004063 -0.006432) translate(-23 0)"/>
<text x="249.97" y="94.10" font-size="3.0" stroke="#5b58a6" stroke-width="0.05" text-anchor="end" fill="#5b58a6" transform="rotate(-90 249.97 94.10)">7</text>
<use href="#gA" fill="#c8102e" transform="translate(252.34 92.20) scale(0.003566 -0.000699) translate(-51 0)"/>
<use href="#gT" fill="#127a3a" transform="translate(252.34 91.22) scale(0.004063 -0.000699) translate(-23 0)"/>
<use href="#gC" fill="#1f3fae" transform="translate(252.34 90.23) scale(0.003659 -0.001359) translate(-84 20)"/>
<use href="#gG" fill="#f5a623" transform="translate(252.34 88.26) scale(0.003546 -0.002785) translate(-84 20)"/>
<text x="255.69" y="94.10" font-size="3.0" stroke="#5b58a6" stroke-width="0.05" text-anchor="end" fill="#5b58a6" transform="rotate(-90 255.69 94.10)">8</text>
<use href="#gA" fill="#c8102e" transform="translate(258.06 92.20) scale(0.003566 -0.000699) translate(-51 0)"/>
<use href="#gC" fill="#1f3fae" transform="translate(258.06 91.22) scale(0.003659 -0.001698) translate(-84 20)"/>
<use href="#gG" fill="#f5a623" transform="translate(258.06 88.75) scale(0.003546 -0.003600) translate(-84 20)"/>
<text x="261.41" y="94.10" font-size="3.0" stroke="#5b58a6" stroke-width="0.05" text-anchor="end" fill="#5b58a6" transform="rotate(-90 261.41 94.10)">9</text>
<line x1="210.5" y1="102.9" x2="210.5" y2="126.0" stroke="#333" stroke-width="0.8"/>
<line x1="209.3" y1="125.4" x2="210.5" y2="125.4" stroke="#333" stroke-width="0.8"/>
<text x="208.50" y="126.90" font-size="4.2" stroke="#555" stroke-width="0.1" text-anchor="end" fill="#555">0</text>
<line x1="209.3" y1="114.30000000000001" x2="210.5" y2="114.30000000000001" stroke="#333" stroke-width="0.8"/>
<text x="208.50" y="115.80" font-size="4.2" stroke="#555" stroke-width="0.1" text-anchor="end" fill="#555">1</text>
<line x1="209.3" y1="103.2" x2="210.5" y2="103.2" stroke="#333" stroke-width="0.8"/>
<text x="208.50" y="104.70" font-size="4.2" stroke="#555" stroke-width="0.1" text-anchor="end" fill="#555">2</text>
<line x1="209.8" y1="119.85000000000001" x2="210.5" y2="119.85000000000001" stroke="#555" stroke-width="0.5"/>
<line x1="209.8" y1="108.75" x2="210.5" y2="108.75" stroke="#555" stroke-width="0.5"/>
<text x="203.50" y="114.30" font-size="3.0" stroke="#555" stroke-width="0.1" text-anchor="middle" fill="#555" transform="rotate(-90 203.50 114.30)">bits</text>
<line x1="210.5" y1="125.7" x2="268.1" y2="125.7" stroke="#777" stroke-width="0.4"/>
<use href="#gC" fill="#1f3fae" transform="translate(211.40 125.40) scale(0.004332 -0.000306) translate(-84 20)"/>
<use href="#gA" fill="#c8102e" transform="translate(211.40 124.96) scale(0.004221 -0.000473) translate(-51 0)"/>
<text x="215.20" y="127.30" font-size="3.0" stroke="#5b58a6" stroke-width="0.05" text-anchor="end" fill="#5b58a6" transform="rotate(-90 215.20 127.30)">1</text>
<use href="#gC" fill="#1f3fae" transform="translate(217.70 125.40) scale(0.004332 -0.000766) translate(-84 20)"/>
<use href="#gG" fill="#f5a623" transform="translate(217.70 124.29) scale(0.004197 -0.000766) translate(-84 20)"/>
<use href="#gA" fill="#c8102e" transform="translate(217.70 123.18) scale(0.004221 -0.008666) translate(-51 0)"/>
<text x="221.50" y="127.30" font-size="3.0" stroke="#5b58a6" stroke-width="0.05" text-anchor="end" fill="#5b58a6" transform="rotate(-90 221.50 127.30)">2</text>
<use href="#gG" fill="#f5a623" transform="translate(224.00 125.40) scale(0.004197 -0.014851) translate(-84 20)"/>
<text x="227.80" y="127.30" font-size="3.0" stroke="#5b58a6" stroke-width="0.05" text-anchor="end" fill="#5b58a6" transform="rotate(-90 227.80 127.30)">3</text>
<use href="#gA" fill="#c8102e" transform="translate(230.30 125.40) scale(0.004221 -0.014574) translate(-51 0)"/>
<text x="234.10" y="127.30" font-size="3.0" stroke="#5b58a6" stroke-width="0.05" text-anchor="end" fill="#5b58a6" transform="rotate(-90 234.10 127.30)">4</text>
<use href="#gT" fill="#127a3a" transform="translate(236.60 125.40) scale(0.004809 -0.015283) translate(-23 0)"/>
<text x="240.40" y="127.30" font-size="3.0" stroke="#5b58a6" stroke-width="0.05" text-anchor="end" fill="#5b58a6" transform="rotate(-90 240.40 127.30)">5</text>
<use href="#gA" fill="#c8102e" transform="translate(242.90 125.40) scale(0.004221 -0.013786) translate(-51 0)"/>
<text x="246.70" y="127.30" font-size="3.0" stroke="#5b58a6" stroke-width="0.05" text-anchor="end" fill="#5b58a6" transform="rotate(-90 246.70 127.30)">6</text>
<use href="#gA" fill="#c8102e" transform="translate(249.20 125.40) scale(0.004221 -0.012762) translate(-51 0)"/>
<text x="253.00" y="127.30" font-size="3.0" stroke="#5b58a6" stroke-width="0.05" text-anchor="end" fill="#5b58a6" transform="rotate(-90 253.00 127.30)">7</text>
<use href="#gG" fill="#f5a623" transform="translate(255.50 125.40) scale(0.004197 -0.000919) translate(-84 20)"/>
<use href="#gC" fill="#1f3fae" transform="translate(255.50 124.07) scale(0.004332 -0.000766) translate(-84 20)"/>
<use href="#gA" fill="#c8102e" transform="translate(255.50 122.96) scale(0.004221 -0.001418) translate(-51 0)"/>
<text x="259.30" y="127.30" font-size="3.0" stroke="#5b58a6" stroke-width="0.05" text-anchor="end" fill="#5b58a6" transform="rotate(-90 259.30 127.30)">8</text>
<use href="#gG" fill="#f5a623" transform="translate(261.80 125.40) scale(0.004197 -0.000766) translate(-84 20)"/>
<use href="#gC" fill="#1f3fae" transform="translate(261.80 124.29) scale(0.004332 -0.000383) translate(-84 20)"/>
<use href="#gA" fill="#c8102e" transform="translate(261.80 123.73) scale(0.004221 -0.001182) translate(-51 0)"/>
<text x="265.60" y="127.30" font-size="3.0" stroke="#5b58a6" stroke-width="0.05" text-anchor="end" fill="#5b58a6" transform="rotate(-90 265.60 127.30)">9</text>
<line x1="371.40000000000003" y1="40.900000000000006" x2="371.40000000000003" y2="61.800000000000004" stroke="#333" stroke-width="0.8"/>
<line x1="370.20000000000005" y1="61.2" x2="371.40000000000003" y2="61.2" stroke="#333" stroke-width="0.8"/>
<text x="369.40" y="62.70" font-size="4.2" stroke="#555" stroke-width="0.1" text-anchor="end" fill="#555">0</text>
<line x1="370.20000000000005" y1="51.2" x2="371.40000000000003" y2="51.2" stroke="#333" stroke-width="0.8"/>
<text x="369.40" y="52.70" font-size="4.2" stroke="#555" stroke-width="0.1" text-anchor="end" fill="#555">1</text>
<line x1="370.20000000000005" y1="41.2" x2="371.40000000000003" y2="41.2" stroke="#333" stroke-width="0.8"/>
<text x="369.40" y="42.70" font-size="4.2" stroke="#555" stroke-width="0.1" text-anchor="end" fill="#555">2</text>
<line x1="370.70000000000005" y1="56.2" x2="371.40000000000003" y2="56.2" stroke="#555" stroke-width="0.5"/>
<line x1="370.70000000000005" y1="46.2" x2="371.40000000000003" y2="46.2" stroke="#555" stroke-width="0.5"/>
<text x="364.40" y="51.20" font-size="3.0" stroke="#555" stroke-width="0.1" text-anchor="middle" fill="#555" transform="rotate(-90 364.40 51.20)">bits</text>
<line x1="371.40000000000003" y1="61.5" x2="424.36000000000007" y2="61.5" stroke="#777" stroke-width="0.4"/>
<use href="#gC" fill="#1f3fae" transform="translate(372.70 61.20) scale(0.003585 -0.001034) translate(-84 20)"/>
<use href="#gG" fill="#f5a623" transform="translate(372.70 59.70) scale(0.003473 -0.000690) translate(-84 20)"/>
<use href="#gT" fill="#127a3a" transform="translate(372.70 58.70) scale(0.003980 -0.002342) translate(-23 0)"/>
<text x="376.00" y="63.10" font-size="3.0" stroke="#5b58a6" stroke-width="0.05" text-anchor="end" fill="#5b58a6" transform="rotate(-90 376.00 63.10)">1</text>
<use href="#gC" fill="#1f3fae" transform="translate(378.44 61.20) scale(0.003585 -0.000690) translate(-84 20)"/>
<use href="#gT" fill="#127a3a" transform="translate(378.44 60.20) scale(0.003980 -0.010362) translate(-23 0)"/>
<text x="381.74" y="63.10" font-size="3.0" stroke="#5b58a6" stroke-width="0.05" text-anchor="end" fill="#5b58a6" transform="rotate(-90 381.74 63.10)">2</text>
<use href="#gG" fill="#f5a623" transform="translate(384.18 61.20) scale(0.003473 -0.013793) translate(-84 20)"/>
<text x="387.48" y="63.10" font-size="3.0" stroke="#5b58a6" stroke-width="0.05" text-anchor="end" fill="#5b58a6" transform="rotate(-90 387.48 63.10)">3</text>
<use href="#gC" fill="#1f3fae" transform="translate(389.92 61.20) scale(0.003585 -0.000690) translate(-84 20)"/>
<use href="#gT" fill="#127a3a" transform="translate(389.92 60.20) scale(0.003980 -0.009439) translate(-23 0)"/>
<text x="393.22" y="63.10" font-size="3.0" stroke="#5b58a6" stroke-width="0.05" text-anchor="end" fill="#5b58a6" transform="rotate(-90 393.22 63.10)">4</text>
<use href="#gG" fill="#f5a623" transform="translate(395.66 61.20) scale(0.003473 -0.013793) translate(-84 20)"/>
<text x="398.96" y="63.10" font-size="3.0" stroke="#5b58a6" stroke-width="0.05" text-anchor="end" fill="#5b58a6" transform="rotate(-90 398.96 63.10)">5</text>
<use href="#gG" fill="#f5a623" transform="translate(401.40 61.20) scale(0.003473 -0.013793) translate(-84 20)"/>
<text x="404.70" y="63.10" font-size="3.0" stroke="#5b58a6" stroke-width="0.05" text-anchor="end" fill="#5b58a6" transform="rotate(-90 404.70 63.10)">6</text>
<use href="#gC" fill="#1f3fae" transform="translate(407.14 61.20) scale(0.003585 -0.000690) translate(-84 20)"/>
<use href="#gT" fill="#127a3a" transform="translate(407.14 60.20) scale(0.003980 -0.011781) translate(-23 0)"/>
<text x="410.44" y="63.10" font-size="3.0" stroke="#5b58a6" stroke-width="0.05" text-anchor="end" fill="#5b58a6" transform="rotate(-90 410.44 63.10)">7</text>
<use href="#gC" fill="#1f3fae" transform="translate(412.88 61.20) scale(0.003585 -0.001034) translate(-84 20)"/>
<use href="#gT" fill="#127a3a" transform="translate(412.88 59.70) scale(0.003980 -0.008588) translate(-23 0)"/>
<text x="416.18" y="63.10" font-size="3.0" stroke="#5b58a6" stroke-width="0.05" text-anchor="end" fill="#5b58a6" transform="rotate(-90 416.18 63.10)">8</text>
<use href="#gA" fill="#c8102e" transform="translate(418.62 61.20) scale(0.003493 -0.001419) translate(-51 0)"/>
<use href="#gC" fill="#1f3fae" transform="translate(418.62 59.20) scale(0.003585 -0.000690) translate(-84 20)"/>
<use href="#gG" fill="#f5a623" transform="translate(418.62 58.20) scale(0.003473 -0.001931) translate(-84 20)"/>
<text x="421.92" y="63.10" font-size="3.0" stroke="#5b58a6" stroke-width="0.05" text-anchor="end" fill="#5b58a6" transform="rotate(-90 421.92 63.10)">9</text>
<line x1="371.40000000000003" y1="72.2" x2="371.40000000000003" y2="93.1" stroke="#333" stroke-width="0.8"/>
<line x1="370.20000000000005" y1="92.5" x2="371.40000000000003" y2="92.5" stroke="#333" stroke-width="0.8"/>
<text x="369.40" y="94.00" font-size="4.2" stroke="#555" stroke-width="0.1" text-anchor="end" fill="#555">0</text>
<line x1="370.20000000000005" y1="82.5" x2="371.40000000000003" y2="82.5" stroke="#333" stroke-width="0.8"/>
<text x="369.40" y="84.00" font-size="4.2" stroke="#555" stroke-width="0.1" text-anchor="end" fill="#555">1</text>
<line x1="370.20000000000005" y1="72.5" x2="371.40000000000003" y2="72.5" stroke="#333" stroke-width="0.8"/>
<text x="369.40" y="74.00" font-size="4.2" stroke="#555" stroke-width="0.1" text-anchor="end" fill="#555">2</text>
<line x1="370.70000000000005" y1="87.5" x2="371.40000000000003" y2="87.5" stroke="#555" stroke-width="0.5"/>
<line x1="370.70000000000005" y1="77.5" x2="371.40000000000003" y2="77.5" stroke="#555" stroke-width="0.5"/>
<text x="364.40" y="82.50" font-size="3.0" stroke="#555" stroke-width="0.1" text-anchor="middle" fill="#555" transform="rotate(-90 364.40 82.50)">bits</text>
<line x1="371.40000000000003" y1="92.8" x2="424.36000000000007" y2="92.8" stroke="#777" stroke-width="0.4"/>
<use href="#gC" fill="#1f3fae" transform="translate(372.70 92.50) scale(0.003585 -0.000690) translate(-84 20)"/>
<use href="#gG" fill="#f5a623" transform="translate(372.70 91.50) scale(0.003473 -0.000690) translate(-84 20)"/>
<use href="#gA" fill="#c8102e" transform="translate(372.70 90.50) scale(0.003493 -0.007878) translate(-51 0)"/>
<text x="376.00" y="94.40" font-size="3.0" stroke="#5b58a6" stroke-width="0.05" text-anchor="end" fill="#5b58a6" transform="rotate(-90 376.00 94.40)">1</text>
<use href="#gG" fill="#f5a623" transform="translate(378.44 92.50) scale(0.003473 -0.013103) translate(-84 20)"/>
<text x="381.74" y="94.40" font-size="3.0" stroke="#5b58a6" stroke-width="0.05" text-anchor="end" fill="#5b58a6" transform="rotate(-90 381.74 94.40)">2</text>
<use href="#gG" fill="#f5a623" transform="translate(384.18 92.50) scale(0.003473 -0.013103) translate(-84 20)"/>
<text x="387.48" y="94.40" font-size="3.0" stroke="#5b58a6" stroke-width="0.05" text-anchor="end" fill="#5b58a6" transform="rotate(-90 387.48 94.40)">3</text>
<use href="#gA" fill="#c8102e" transform="translate(389.92 92.50) scale(0.003493 -0.013485) translate(-51 0)"/>
<text x="393.22" y="94.40" font-size="3.0" stroke="#5b58a6" stroke-width="0.05" text-anchor="end" fill="#5b58a6" transform="rotate(-90 393.22 94.40)">4</text>
<use href="#gG" fill="#f5a623" transform="translate(395.66 92.50) scale(0.003473 -0.000690) translate(-84 20)"/>
<use href="#gA" fill="#c8102e" transform="translate(395.66 91.50) scale(0.003493 -0.008588) translate(-51 0)"/>
<text x="398.96" y="94.40" font-size="3.0" stroke="#5b58a6" stroke-width="0.05" text-anchor="end" fill="#5b58a6" transform="rotate(-90 398.96 94.40)">5</text>
<use href="#gA" fill="#c8102e" transform="translate(401.40 92.50) scale(0.003493 -0.000355) translate(-51 0)"/>
<use href="#gG" fill="#f5a623" transform="translate(401.40 92.00) scale(0.003473 -0.009586) translate(-84 20)"/>
<text x="404.70" y="94.40" font-size="3.0" stroke="#5b58a6" stroke-width="0.05" text-anchor="end" fill="#5b58a6" transform="rotate(-90 404.70 94.40)">6</text>
<use href="#gC" fill="#1f3fae" transform="translate(407.14 92.50) scale(0.003585 -0.000690) translate(-84 20)"/>
<use href="#gT" fill="#127a3a" transform="translate(407.14 91.50) scale(0.003980 -0.008162) translate(-23 0)"/>
<text x="410.44" y="94.40" font-size="3.0" stroke="#5b58a6" stroke-width="0.05" text-anchor="end" fill="#5b58a6" transform="rotate(-90 410.44 94.40)">7</text>
<use href="#gA" fill="#c8102e" transform="translate(412.88 92.50) scale(0.003493 -0.000710) translate(-51 0)"/>
<use href="#gT" fill="#127a3a" transform="translate(412.88 91.50) scale(0.003980 -0.000710) translate(-23 0)"/>
<use href="#gG" fill="#f5a623" transform="translate(412.88 90.50) scale(0.003473 -0.004966) translate(-84 20)"/>
<text x="416.18" y="94.40" font-size="3.0" stroke="#5b58a6" stroke-width="0.05" text-anchor="end" fill="#5b58a6" transform="rotate(-90 416.18 94.40)">8</text>
<use href="#gA" fill="#c8102e" transform="translate(418.62 92.50) scale(0.003493 -0.001065) translate(-51 0)"/>
<use href="#gC" fill="#1f3fae" transform="translate(418.62 91.00) scale(0.003585 -0.000690) translate(-84 20)"/>
<use href="#gG" fill="#f5a623" transform="translate(418.62 90.00) scale(0.003473 -0.004621) translate(-84 20)"/>
<text x="421.92" y="94.40" font-size="3.0" stroke="#5b58a6" stroke-width="0.05" text-anchor="end" fill="#5b58a6" transform="rotate(-90 421.92 94.40)">9</text>
<line x1="371.40000000000003" y1="104.2" x2="371.40000000000003" y2="125.39999999999999" stroke="#333" stroke-width="0.8"/>
<line x1="370.20000000000005" y1="124.8" x2="371.40000000000003" y2="124.8" stroke="#333" stroke-width="0.8"/>
<text x="369.40" y="126.30" font-size="4.2" stroke="#555" stroke-width="0.1" text-anchor="end" fill="#555">0</text>
<line x1="370.20000000000005" y1="114.65" x2="371.40000000000003" y2="114.65" stroke="#333" stroke-width="0.8"/>
<text x="369.40" y="116.15" font-size="4.2" stroke="#555" stroke-width="0.1" text-anchor="end" fill="#555">1</text>
<line x1="370.20000000000005" y1="104.5" x2="371.40000000000003" y2="104.5" stroke="#333" stroke-width="0.8"/>
<text x="369.40" y="106.00" font-size="4.2" stroke="#555" stroke-width="0.1" text-anchor="end" fill="#555">2</text>
<line x1="370.70000000000005" y1="119.725" x2="371.40000000000003" y2="119.725" stroke="#555" stroke-width="0.5"/>
<line x1="370.70000000000005" y1="109.575" x2="371.40000000000003" y2="109.575" stroke="#555" stroke-width="0.5"/>
<text x="364.40" y="114.65" font-size="3.0" stroke="#555" stroke-width="0.1" text-anchor="middle" fill="#555" transform="rotate(-90 364.40 114.65)">bits</text>
<line x1="371.40000000000003" y1="125.1" x2="424.36000000000007" y2="125.1" stroke="#777" stroke-width="0.4"/>
<use href="#gC" fill="#1f3fae" transform="translate(372.70 124.80) scale(0.003585 -0.000350) translate(-84 20)"/>
<use href="#gA" fill="#c8102e" transform="translate(372.70 124.29) scale(0.003493 -0.000720) translate(-51 0)"/>
<use href="#gG" fill="#f5a623" transform="translate(372.70 123.28) scale(0.003473 -0.001050) translate(-84 20)"/>
<text x="376.00" y="126.70" font-size="3.0" stroke="#5b58a6" stroke-width="0.05" text-anchor="end" fill="#5b58a6" transform="rotate(-90 376.00 126.70)">1</text>
<use href="#gC" fill="#1f3fae" transform="translate(378.44 124.80) scale(0.003585 -0.000280) translate(-84 20)"/>
<use href="#gG" fill="#f5a623" transform="translate(378.44 124.39) scale(0.003473 -0.000560) translate(-84 20)"/>
<use href="#gA" fill="#c8102e" transform="translate(378.44 123.58) scale(0.003493 -0.000720) translate(-51 0)"/>
<text x="381.74" y="126.70" font-size="3.0" stroke="#5b58a6" stroke-width="0.05" text-anchor="end" fill="#5b58a6" transform="rotate(-90 381.74 126.70)">2</text>
<use href="#gA" fill="#c8102e" transform="translate(384.18 124.80) scale(0.003493 -0.012246) translate(-51 0)"/>
<text x="387.48" y="126.70" font-size="3.0" stroke="#5b58a6" stroke-width="0.05" text-anchor="end" fill="#5b58a6" transform="rotate(-90 387.48 126.70)">3</text>
<use href="#gG" fill="#f5a623" transform="translate(389.92 124.80) scale(0.003473 -0.012810) translate(-84 20)"/>
<text x="393.22" y="126.70" font-size="3.0" stroke="#5b58a6" stroke-width="0.05" text-anchor="end" fill="#5b58a6" transform="rotate(-90 393.22 126.70)">4</text>
<use href="#gA" fill="#c8102e" transform="translate(395.66 124.80) scale(0.003493 -0.012751) translate(-51 0)"/>
<text x="398.96" y="126.70" font-size="3.0" stroke="#5b58a6" stroke-width="0.05" text-anchor="end" fill="#5b58a6" transform="rotate(-90 398.96 126.70)">5</text>
<use href="#gT" fill="#127a3a" transform="translate(401.40 124.80) scale(0.003980 -0.013183) translate(-23 0)"/>
<text x="404.70" y="126.70" font-size="3.0" stroke="#5b58a6" stroke-width="0.05" text-anchor="end" fill="#5b58a6" transform="rotate(-90 404.70 126.70)">6</text>
<use href="#gA" fill="#c8102e" transform="translate(407.14 124.80) scale(0.003493 -0.012751) translate(-51 0)"/>
<text x="410.44" y="126.70" font-size="3.0" stroke="#5b58a6" stroke-width="0.05" text-anchor="end" fill="#5b58a6" transform="rotate(-90 410.44 126.70)">7</text>
<use href="#gA" fill="#c8102e" transform="translate(412.88 124.80) scale(0.003493 -0.012246) translate(-51 0)"/>
<text x="416.18" y="126.70" font-size="3.0" stroke="#5b58a6" stroke-width="0.05" text-anchor="end" fill="#5b58a6" transform="rotate(-90 416.18 126.70)">8</text>
<use href="#gC" fill="#1f3fae" transform="translate(418.62 124.80) scale(0.003585 -0.000350) translate(-84 20)"/>
<use href="#gA" fill="#c8102e" transform="translate(418.62 124.29) scale(0.003493 -0.000720) translate(-51 0)"/>
<use href="#gG" fill="#f5a623" transform="translate(418.62 123.28) scale(0.003473 -0.001050) translate(-84 20)"/>
<text x="421.92" y="126.70" font-size="3.0" stroke="#5b58a6" stroke-width="0.05" text-anchor="end" fill="#5b58a6" transform="rotate(-90 421.92 126.70)">9</text>
<text x="7.00" y="157.40" font-size="10.2" stroke="#231f20" stroke-width="0.3" font-weight="bold">B</text>
<text x="96.30" y="154.90" font-size="8.6" stroke="#231f20" stroke-width="0.14" text-anchor="middle">4A</text>
<rect x="44.20" y="203.27" width="20.60" height="61.23" fill="#31abe0"/>
<text x="54.50" y="200.17" font-size="6.7" stroke="#231f20" stroke-width="0.14" text-anchor="middle" textLength="14.3" lengthAdjust="spacingAndGlyphs">2403</text>
<line x1="54.5" y1="264.5" x2="54.5" y2="266.7" stroke="#231f20" stroke-width="0.9"/>
<rect x="70.00" y="237.95" width="20.90" height="26.55" fill="#31abe0"/>
<text x="80.45" y="234.85" font-size="6.7" stroke="#231f20" stroke-width="0.14" text-anchor="middle" textLength="14.3" lengthAdjust="spacingAndGlyphs">1042</text>
<line x1="80.45" y1="264.5" x2="80.45" y2="266.7" stroke="#231f20" stroke-width="0.9"/>
<rect x="95.50" y="212.85" width="20.70" height="51.65" fill="#31abe0"/>
<text x="105.85" y="209.75" font-size="6.7" stroke="#231f20" stroke-width="0.14" text-anchor="middle" textLength="14.3" lengthAdjust="spacingAndGlyphs">2027</text>
<line x1="105.85" y1="264.5" x2="105.85" y2="266.7" stroke="#231f20" stroke-width="0.9"/>
<rect x="121.50" y="255.81" width="20.50" height="8.69" fill="#31abe0"/>
<text x="131.75" y="252.71" font-size="6.7" stroke="#231f20" stroke-width="0.14" text-anchor="middle" textLength="10.7" lengthAdjust="spacingAndGlyphs">341</text>
<line x1="131.75" y1="264.5" x2="131.75" y2="266.7" stroke="#231f20" stroke-width="0.9"/>
<line x1="39.8" y1="159.8" x2="39.8" y2="265.1" stroke="#231f20" stroke-width="1.3"/>
<line x1="39.199999999999996" y1="264.5" x2="153" y2="264.5" stroke="#231f20" stroke-width="1.3"/>
<line x1="36.699999999999996" y1="264.5" x2="39.8" y2="264.5" stroke="#231f20" stroke-width="1.0"/>
<text x="33.80" y="266.80" font-size="6.5" stroke="#231f20" stroke-width="0.14" text-anchor="end">0</text>
<line x1="36.699999999999996" y1="239.02" x2="39.8" y2="239.02" stroke="#231f20" stroke-width="1.0"/>
<text x="33.80" y="241.32" font-size="6.5" stroke="#231f20" stroke-width="0.14" text-anchor="end" textLength="14.3" lengthAdjust="spacingAndGlyphs">1000</text>
<line x1="36.699999999999996" y1="213.54" x2="39.8" y2="213.54" stroke="#231f20" stroke-width="1.0"/>
<text x="33.80" y="215.84" font-size="6.5" stroke="#231f20" stroke-width="0.14" text-anchor="end" textLength="14.3" lengthAdjust="spacingAndGlyphs">2000</text>
<line x1="36.699999999999996" y1="188.06" x2="39.8" y2="188.06" stroke="#231f20" stroke-width="1.0"/>
<text x="33.80" y="190.36" font-size="6.5" stroke="#231f20" stroke-width="0.14" text-anchor="end" textLength="14.3" lengthAdjust="spacingAndGlyphs">3000</text>
<line x1="36.699999999999996" y1="162.57999999999998" x2="39.8" y2="162.57999999999998" stroke="#231f20" stroke-width="1.0"/>
<text x="33.80" y="164.88" font-size="6.5" stroke="#231f20" stroke-width="0.14" text-anchor="end" textLength="14.3" lengthAdjust="spacingAndGlyphs">4000</text>
<text x="13.90" y="212.00" font-size="8.2" stroke="#231f20" stroke-width="0.1" text-anchor="middle" textLength="52" lengthAdjust="spacingAndGlyphs" transform="rotate(-90 13.90 212.00)">Number of peaks</text>
<text x="60.30" y="275.00" font-size="6.7" stroke="#231f20" stroke-width="0.06" text-anchor="end" textLength="17.5" lengthAdjust="spacingAndGlyphs" transform="rotate(-45 60.30 275.00)">&lt; 1kb</text>
<text x="86.25" y="275.00" font-size="6.7" stroke="#231f20" stroke-width="0.06" text-anchor="end" textLength="27.0" lengthAdjust="spacingAndGlyphs" transform="rotate(-45 86.25 275.00)">1kb-10kb</text>
<text x="111.65" y="275.00" font-size="6.7" stroke="#231f20" stroke-width="0.06" text-anchor="end" textLength="33.5" lengthAdjust="spacingAndGlyphs" transform="rotate(-45 111.65 275.00)">10kb-100kb</text>
<text x="137.55" y="275.00" font-size="6.7" stroke="#231f20" stroke-width="0.06" text-anchor="end" textLength="22.5" lengthAdjust="spacingAndGlyphs" transform="rotate(-45 137.55 275.00)">100kb+</text>
<text x="96.40" y="311.00" font-size="9.4" stroke="#231f20" stroke-width="0.14" text-anchor="middle" textLength="45.5" lengthAdjust="spacingAndGlyphs">Distance to TSS</text>
<text x="257.80" y="154.90" font-size="8.6" stroke="#231f20" stroke-width="0.14" text-anchor="middle">WT</text>
<rect x="206.20" y="187.73" width="20.50" height="76.77" fill="#31abe0"/>
<text x="216.45" y="184.63" font-size="6.7" stroke="#231f20" stroke-width="0.14" text-anchor="middle" textLength="14.3" lengthAdjust="spacingAndGlyphs">3013</text>
<line x1="216.45" y1="264.5" x2="216.45" y2="266.7" stroke="#231f20" stroke-width="0.9"/>
<rect x="232.30" y="236.29" width="20.60" height="28.21" fill="#31abe0"/>
<text x="242.60" y="233.19" font-size="6.7" stroke="#231f20" stroke-width="0.14" text-anchor="middle" textLength="14.3" lengthAdjust="spacingAndGlyphs">1107</text>
<line x1="242.60000000000002" y1="264.5" x2="242.60000000000002" y2="266.7" stroke="#231f20" stroke-width="0.9"/>
<rect x="258.80" y="211.45" width="20.40" height="53.05" fill="#31abe0"/>
<text x="269.00" y="208.35" font-size="6.7" stroke="#231f20" stroke-width="0.14" text-anchor="middle" textLength="14.3" lengthAdjust="spacingAndGlyphs">2082</text>
<line x1="269.0" y1="264.5" x2="269.0" y2="266.7" stroke="#231f20" stroke-width="0.9"/>
<rect x="285.20" y="255.43" width="20.60" height="9.07" fill="#31abe0"/>
<text x="295.50" y="252.33" font-size="6.7" stroke="#231f20" stroke-width="0.14" text-anchor="middle" textLength="10.7" lengthAdjust="spacingAndGlyphs">356</text>
<line x1="295.5" y1="264.5" x2="295.5" y2="266.7" stroke="#231f20" stroke-width="0.9"/>
<line x1="201.0" y1="159.8" x2="201.0" y2="265.1" stroke="#231f20" stroke-width="1.3"/>
<line x1="200.4" y1="264.5" x2="313.5" y2="264.5" stroke="#231f20" stroke-width="1.3"/>
<line x1="197.9" y1="264.5" x2="201.0" y2="264.5" stroke="#231f20" stroke-width="1.0"/>
<text x="195.00" y="266.80" font-size="6.5" stroke="#231f20" stroke-width="0.14" text-anchor="end">0</text>
<line x1="197.9" y1="239.02" x2="201.0" y2="239.02" stroke="#231f20" stroke-width="1.0"/>
<text x="195.00" y="241.32" font-size="6.5" stroke="#231f20" stroke-width="0.14" text-anchor="end" textLength="14.3" lengthAdjust="spacingAndGlyphs">1000</text>
<line x1="197.9" y1="213.54" x2="201.0" y2="213.54" stroke="#231f20" stroke-width="1.0"/>
<text x="195.00" y="215.84" font-size="6.5" stroke="#231f20" stroke-width="0.14" text-anchor="end" textLength="14.3" lengthAdjust="spacingAndGlyphs">2000</text>
<line x1="197.9" y1="188.06" x2="201.0" y2="188.06" stroke="#231f20" stroke-width="1.0"/>
<text x="195.00" y="190.36" font-size="6.5" stroke="#231f20" stroke-width="0.14" text-anchor="end" textLength="14.3" lengthAdjust="spacingAndGlyphs">3000</text>
<line x1="197.9" y1="162.57999999999998" x2="201.0" y2="162.57999999999998" stroke="#231f20" stroke-width="1.0"/>
<text x="195.00" y="164.88" font-size="6.5" stroke="#231f20" stroke-width="0.14" text-anchor="end" textLength="14.3" lengthAdjust="spacingAndGlyphs">4000</text>
<text x="175.50" y="212.00" font-size="8.2" stroke="#231f20" stroke-width="0.1" text-anchor="middle" textLength="52" lengthAdjust="spacingAndGlyphs" transform="rotate(-90 175.50 212.00)">Number of peaks</text>
<text x="222.25" y="275.00" font-size="6.7" stroke="#231f20" stroke-width="0.06" text-anchor="end" textLength="17.5" lengthAdjust="spacingAndGlyphs" transform="rotate(-45 222.25 275.00)">&lt; 1kb</text>
<text x="248.40" y="275.00" font-size="6.7" stroke="#231f20" stroke-width="0.06" text-anchor="end" textLength="27.0" lengthAdjust="spacingAndGlyphs" transform="rotate(-45 248.40 275.00)">1kb-10kb</text>
<text x="274.80" y="275.00" font-size="6.7" stroke="#231f20" stroke-width="0.06" text-anchor="end" textLength="33.5" lengthAdjust="spacingAndGlyphs" transform="rotate(-45 274.80 275.00)">10kb-100kb</text>
<text x="301.30" y="275.00" font-size="6.7" stroke="#231f20" stroke-width="0.06" text-anchor="end" textLength="22.5" lengthAdjust="spacingAndGlyphs" transform="rotate(-45 301.30 275.00)">100kb+</text>
<text x="257.25" y="311.00" font-size="9.4" stroke="#231f20" stroke-width="0.14" text-anchor="middle" textLength="45.5" lengthAdjust="spacingAndGlyphs">Distance to TSS</text>
<text x="418.50" y="154.90" font-size="8.6" stroke="#231f20" stroke-width="0.14" text-anchor="middle">4D</text>
<rect x="367.70" y="209.85" width="20.70" height="54.65" fill="#31abe0"/>
<text x="378.05" y="206.75" font-size="6.7" stroke="#231f20" stroke-width="0.14" text-anchor="middle" textLength="14.3" lengthAdjust="spacingAndGlyphs">2145</text>
<line x1="378.04999999999995" y1="264.5" x2="378.04999999999995" y2="266.7" stroke="#231f20" stroke-width="0.9"/>
<rect x="394.80" y="241.70" width="20.70" height="22.80" fill="#31abe0"/>
<text x="405.15" y="238.60" font-size="6.7" stroke="#231f20" stroke-width="0.14" text-anchor="middle" textLength="10.7" lengthAdjust="spacingAndGlyphs">895</text>
<line x1="405.15" y1="264.5" x2="405.15" y2="266.7" stroke="#231f20" stroke-width="0.9"/>
<rect x="421.90" y="219.88" width="20.70" height="44.62" fill="#31abe0"/>
<text x="432.25" y="216.78" font-size="6.7" stroke="#231f20" stroke-width="0.14" text-anchor="middle" textLength="14.3" lengthAdjust="spacingAndGlyphs">1751</text>
<line x1="432.25" y1="264.5" x2="432.25" y2="266.7" stroke="#231f20" stroke-width="0.9"/>
<rect x="449.00" y="256.81" width="20.70" height="7.69" fill="#31abe0"/>
<text x="459.35" y="253.71" font-size="6.7" stroke="#231f20" stroke-width="0.14" text-anchor="middle" textLength="10.7" lengthAdjust="spacingAndGlyphs">302</text>
<line x1="459.35" y1="264.5" x2="459.35" y2="266.7" stroke="#231f20" stroke-width="0.9"/>
<line x1="362.3" y1="159.8" x2="362.3" y2="265.1" stroke="#231f20" stroke-width="1.3"/>
<line x1="361.7" y1="264.5" x2="474.8" y2="264.5" stroke="#231f20" stroke-width="1.3"/>
<line x1="359.2" y1="264.5" x2="362.3" y2="264.5" stroke="#231f20" stroke-width="1.0"/>
<text x="356.30" y="266.80" font-size="6.5" stroke="#231f20" stroke-width="0.14" text-anchor="end">0</text>
<line x1="359.2" y1="239.02" x2="362.3" y2="239.02" stroke="#231f20" stroke-width="1.0"/>
<text x="356.30" y="241.32" font-size="6.5" stroke="#231f20" stroke-width="0.14" text-anchor="end" textLength="14.3" lengthAdjust="spacingAndGlyphs">1000</text>
<line x1="359.2" y1="213.54" x2="362.3" y2="213.54" stroke="#231f20" stroke-width="1.0"/>
<text x="356.30" y="215.84" font-size="6.5" stroke="#231f20" stroke-width="0.14" text-anchor="end" textLength="14.3" lengthAdjust="spacingAndGlyphs">2000</text>
<line x1="359.2" y1="188.06" x2="362.3" y2="188.06" stroke="#231f20" stroke-width="1.0"/>
<text x="356.30" y="190.36" font-size="6.5" stroke="#231f20" stroke-width="0.14" text-anchor="end" textLength="14.3" lengthAdjust="spacingAndGlyphs">3000</text>
<line x1="359.2" y1="162.57999999999998" x2="362.3" y2="162.57999999999998" stroke="#231f20" stroke-width="1.0"/>
<text x="356.30" y="164.88" font-size="6.5" stroke="#231f20" stroke-width="0.14" text-anchor="end" textLength="14.3" lengthAdjust="spacingAndGlyphs">4000</text>
<text x="336.90" y="212.00" font-size="8.2" stroke="#231f20" stroke-width="0.1" text-anchor="middle" textLength="52" lengthAdjust="spacingAndGlyphs" transform="rotate(-90 336.90 212.00)">Number of peaks</text>
<text x="383.85" y="275.00" font-size="6.7" stroke="#231f20" stroke-width="0.06" text-anchor="end" textLength="17.5" lengthAdjust="spacingAndGlyphs" transform="rotate(-45 383.85 275.00)">&lt; 1kb</text>
<text x="410.95" y="275.00" font-size="6.7" stroke="#231f20" stroke-width="0.06" text-anchor="end" textLength="27.0" lengthAdjust="spacingAndGlyphs" transform="rotate(-45 410.95 275.00)">1kb-10kb</text>
<text x="438.05" y="275.00" font-size="6.7" stroke="#231f20" stroke-width="0.06" text-anchor="end" textLength="33.5" lengthAdjust="spacingAndGlyphs" transform="rotate(-45 438.05 275.00)">10kb-100kb</text>
<text x="465.15" y="275.00" font-size="6.7" stroke="#231f20" stroke-width="0.06" text-anchor="end" textLength="22.5" lengthAdjust="spacingAndGlyphs" transform="rotate(-45 465.15 275.00)">100kb+</text>
<text x="418.55" y="311.00" font-size="9.4" stroke="#231f20" stroke-width="0.14" text-anchor="middle" textLength="45.5" lengthAdjust="spacingAndGlyphs">Distance to TSS</text>
<text x="6.60" y="338.40" font-size="11.8" stroke="#231f20" stroke-width="0.3" font-weight="bold">C</text>
<text x="100.20" y="335.40" font-size="8.3" stroke="#231f20" stroke-width="0.14" text-anchor="middle" textLength="74.5" lengthAdjust="spacingAndGlyphs">Differential Binding</text>
<text x="100.20" y="345.40" font-size="8.3" stroke="#231f20" stroke-width="0.14" text-anchor="middle" textLength="35.5" lengthAdjust="spacingAndGlyphs">4A vs. WT</text>
<line x1="79.6" y1="351.1" x2="79.6" y2="431.3" stroke="#8c8c8c" stroke-width="1.0" stroke-dasharray="2 2" stroke-dashoffset="1.1"/>
<line x1="120.89999999999999" y1="351.1" x2="120.89999999999999" y2="431.3" stroke="#8c8c8c" stroke-width="1.0" stroke-dasharray="2 2" stroke-dashoffset="1.1"/>
<line x1="32.9" y1="418.75" x2="167.20000000000002" y2="418.75" stroke="#8c8c8c" stroke-width="1.0" stroke-dasharray="2 2" stroke-dashoffset="0.7"/>
<circle cx="98.92" cy="427.15" r="0.65" fill="#a9a9a9"/>
<circle cx="98.63" cy="427.00" r="0.65" fill="#a9a9a9"/>
<circle cx="98.17" cy="426.64" r="0.65" fill="#a9a9a9"/>
<circle cx="98.38" cy="426.16" r="0.65" fill="#a9a9a9"/>
<circle cx="98.07" cy="425.86" r="0.65" fill="#a9a9a9"/>
<circle cx="97.62" cy="425.54" r="0.65" fill="#a9a9a9"/>
<circle cx="96.82" cy="425.05" r="0.65" fill="#a9a9a9"/>
<circle cx="97.06" cy="424.79" r="0.65" fill="#a9a9a9"/>
<circle cx="96.23" cy="424.95" r="0.65" fill="#a9a9a9"/>
<circle cx="96.14" cy="424.33" r="0.65" fill="#a9a9a9"/>
<circle cx="96.14" cy="423.90" r="0.65" fill="#a9a9a9"/>
<circle cx="95.90" cy="423.69" r="0.65" fill="#a9a9a9"/>
<circle cx="95.56" cy="423.13" r="0.65" fill="#a9a9a9"/>
<circle cx="95.03" cy="422.50" r="0.65" fill="#a9a9a9"/>
<circle cx="95.03" cy="422.27" r="0.65" fill="#a9a9a9"/>
<circle cx="94.46" cy="422.36" r="0.65" fill="#a9a9a9"/>
<circle cx="94.23" cy="421.89" r="0.65" fill="#a9a9a9"/>
<circle cx="94.18" cy="421.47" r="0.65" fill="#a9a9a9"/>
<circle cx="93.62" cy="421.40" r="0.65" fill="#a9a9a9"/>
<circle cx="93.31" cy="420.58" r="0.65" fill="#a9a9a9"/>
<circle cx="92.95" cy="420.46" r="0.65" fill="#a9a9a9"/>
<circle cx="92.96" cy="420.50" r="0.65" fill="#a9a9a9"/>
<circle cx="92.58" cy="419.55" r="0.65" fill="#a9a9a9"/>
<circle cx="91.78" cy="419.57" r="0.65" fill="#a9a9a9"/>
<circle cx="91.96" cy="419.34" r="0.65" fill="#a9a9a9"/>
<circle cx="91.81" cy="418.84" r="0.65" fill="#a9a9a9"/>
<circle cx="91.04" cy="418.30" r="0.65" fill="#a9a9a9"/>
<circle cx="91.27" cy="417.94" r="0.65" fill="#a9a9a9"/>
<circle cx="91.17" cy="417.73" r="0.65" fill="#a9a9a9"/>
<circle cx="90.55" cy="417.76" r="0.65" fill="#a9a9a9"/>
<circle cx="90.38" cy="417.27" r="0.65" fill="#a9a9a9"/>
<circle cx="89.83" cy="417.08" r="0.65" fill="#a9a9a9"/>
<circle cx="89.41" cy="416.58" r="0.65" fill="#a9a9a9"/>
<circle cx="89.67" cy="416.57" r="0.65" fill="#a9a9a9"/>
<circle cx="88.71" cy="415.73" r="0.65" fill="#a9a9a9"/>
<circle cx="89.13" cy="415.32" r="0.65" fill="#a9a9a9"/>
<circle cx="88.02" cy="415.66" r="0.65" fill="#a9a9a9"/>
<circle cx="88.28" cy="414.93" r="0.65" fill="#a9a9a9"/>
<circle cx="87.38" cy="411.98" r="0.65" fill="#a9a9a9"/>
<circle cx="81.48" cy="408.60" r="0.65" fill="#a9a9a9"/>
<circle cx="85.55" cy="408.67" r="0.65" fill="#a9a9a9"/>
<circle cx="86.36" cy="408.74" r="0.65" fill="#a9a9a9"/>
<circle cx="85.95" cy="408.89" r="0.65" fill="#a9a9a9"/>
<circle cx="100.33" cy="427.20" r="0.55" fill="#c8c8c8"/>
<circle cx="101.36" cy="426.93" r="0.55" fill="#c8c8c8"/>
<circle cx="101.64" cy="426.41" r="0.55" fill="#c8c8c8"/>
<circle cx="102.46" cy="425.92" r="0.55" fill="#c8c8c8"/>
<circle cx="102.69" cy="425.49" r="0.55" fill="#c8c8c8"/>
<circle cx="102.67" cy="424.88" r="0.55" fill="#c8c8c8"/>
<circle cx="103.77" cy="424.59" r="0.55" fill="#c8c8c8"/>
<circle cx="103.54" cy="424.40" r="0.55" fill="#c8c8c8"/>
<circle cx="104.72" cy="424.20" r="0.55" fill="#c8c8c8"/>
<circle cx="104.96" cy="423.13" r="0.55" fill="#c8c8c8"/>
<circle cx="105.17" cy="422.55" r="0.55" fill="#c8c8c8"/>
<circle cx="106.11" cy="422.49" r="0.55" fill="#c8c8c8"/>
<circle cx="106.55" cy="421.86" r="0.55" fill="#c8c8c8"/>
<circle cx="106.99" cy="421.30" r="0.55" fill="#c8c8c8"/>
<circle cx="107.28" cy="421.19" r="0.55" fill="#c8c8c8"/>
<circle cx="108.19" cy="420.64" r="0.55" fill="#c8c8c8"/>
<circle cx="80.08" cy="428.22" r="0.6" fill="#b4b4b4"/>
<circle cx="81.03" cy="428.33" r="0.6" fill="#b4b4b4"/>
<circle cx="80.94" cy="428.30" r="0.6" fill="#b4b4b4"/>
<circle cx="81.66" cy="428.32" r="0.6" fill="#b4b4b4"/>
<circle cx="82.46" cy="428.37" r="0.6" fill="#b4b4b4"/>
<circle cx="82.91" cy="428.39" r="0.6" fill="#b4b4b4"/>
<circle cx="82.97" cy="428.25" r="0.6" fill="#b4b4b4"/>
<circle cx="83.84" cy="428.23" r="0.6" fill="#b4b4b4"/>
<circle cx="84.16" cy="428.28" r="0.6" fill="#b4b4b4"/>
<circle cx="84.60" cy="428.25" r="0.6" fill="#b4b4b4"/>
<circle cx="85.02" cy="428.27" r="0.6" fill="#b4b4b4"/>
<circle cx="85.65" cy="428.29" r="0.6" fill="#b4b4b4"/>
<circle cx="86.17" cy="428.25" r="0.6" fill="#b4b4b4"/>
<circle cx="86.90" cy="428.27" r="0.6" fill="#b4b4b4"/>
<circle cx="86.88" cy="428.32" r="0.6" fill="#b4b4b4"/>
<circle cx="87.45" cy="428.23" r="0.6" fill="#b4b4b4"/>
<circle cx="87.86" cy="428.27" r="0.6" fill="#b4b4b4"/>
<circle cx="88.78" cy="428.48" r="0.6" fill="#b4b4b4"/>
<circle cx="88.66" cy="428.28" r="0.6" fill="#b4b4b4"/>
<circle cx="89.45" cy="428.28" r="0.6" fill="#b4b4b4"/>
<circle cx="89.76" cy="428.25" r="0.6" fill="#b4b4b4"/>
<circle cx="90.38" cy="428.33" r="0.6" fill="#b4b4b4"/>
<circle cx="91.30" cy="428.27" r="0.6" fill="#b4b4b4"/>
<circle cx="91.17" cy="428.30" r="0.6" fill="#b4b4b4"/>
<circle cx="91.72" cy="428.30" r="0.6" fill="#b4b4b4"/>
<circle cx="91.69" cy="428.33" r="0.6" fill="#b4b4b4"/>
<circle cx="92.93" cy="428.38" r="0.6" fill="#b4b4b4"/>
<circle cx="93.19" cy="428.22" r="0.6" fill="#b4b4b4"/>
<circle cx="93.86" cy="428.18" r="0.6" fill="#b4b4b4"/>
<circle cx="93.81" cy="428.32" r="0.6" fill="#b4b4b4"/>
<circle cx="94.57" cy="428.25" r="0.6" fill="#b4b4b4"/>
<circle cx="95.34" cy="428.49" r="0.6" fill="#b4b4b4"/>
<circle cx="95.82" cy="428.40" r="0.6" fill="#b4b4b4"/>
<circle cx="96.22" cy="428.40" r="0.6" fill="#b4b4b4"/>
<circle cx="96.59" cy="428.21" r="0.6" fill="#b4b4b4"/>
<circle cx="97.01" cy="428.28" r="0.6" fill="#b4b4b4"/>
<circle cx="97.68" cy="428.28" r="0.6" fill="#b4b4b4"/>
<circle cx="97.98" cy="428.18" r="0.6" fill="#b4b4b4"/>
<circle cx="98.69" cy="428.32" r="0.6" fill="#b4b4b4"/>
<circle cx="99.51" cy="428.38" r="0.6" fill="#b4b4b4"/>
<circle cx="99.62" cy="428.31" r="0.6" fill="#b4b4b4"/>
<circle cx="99.94" cy="428.24" r="0.6" fill="#b4b4b4"/>
<circle cx="100.44" cy="428.25" r="0.6" fill="#b4b4b4"/>
<circle cx="100.56" cy="428.40" r="0.6" fill="#b4b4b4"/>
<circle cx="101.48" cy="428.36" r="0.6" fill="#b4b4b4"/>
<circle cx="101.62" cy="428.40" r="0.6" fill="#b4b4b4"/>
<circle cx="102.57" cy="428.24" r="0.6" fill="#b4b4b4"/>
<circle cx="103.09" cy="428.36" r="0.6" fill="#b4b4b4"/>
<circle cx="103.27" cy="428.38" r="0.6" fill="#b4b4b4"/>
<circle cx="103.91" cy="428.18" r="0.6" fill="#b4b4b4"/>
<circle cx="104.05" cy="428.18" r="0.6" fill="#b4b4b4"/>
<circle cx="104.91" cy="428.31" r="0.6" fill="#b4b4b4"/>
<circle cx="104.79" cy="428.19" r="0.6" fill="#b4b4b4"/>
<circle cx="105.65" cy="428.34" r="0.6" fill="#b4b4b4"/>
<circle cx="106.23" cy="428.26" r="0.6" fill="#b4b4b4"/>
<circle cx="106.93" cy="428.37" r="0.6" fill="#b4b4b4"/>
<circle cx="107.34" cy="428.18" r="0.6" fill="#b4b4b4"/>
<circle cx="107.88" cy="428.31" r="0.6" fill="#b4b4b4"/>
<circle cx="107.91" cy="428.22" r="0.6" fill="#b4b4b4"/>
<circle cx="108.57" cy="428.28" r="0.6" fill="#b4b4b4"/>
<circle cx="41.80" cy="428.00" r="0.6" fill="#dcdcdc"/>
<circle cx="61.74" cy="428.00" r="0.6" fill="#dcdcdc"/>
<circle cx="65.60" cy="428.00" r="0.6" fill="#dcdcdc"/>
<circle cx="75.37" cy="428.00" r="0.6" fill="#dcdcdc"/>
<rect x="32.90" y="351.10" width="134.30" height="80.20" fill="none" stroke="#231f20" stroke-width="1.3"/>
<line x1="29.7" y1="354.5" x2="32.9" y2="354.5" stroke="#231f20" stroke-width="1.0"/>
<text x="26.60" y="356.80" font-size="6.5" stroke="#231f20" stroke-width="0.14" text-anchor="end">10</text>
<line x1="29.7" y1="391.25" x2="32.9" y2="391.25" stroke="#231f20" stroke-width="1.0"/>
<text x="26.60" y="393.55" font-size="6.5" stroke="#231f20" stroke-width="0.14" text-anchor="end">5</text>
<line x1="29.7" y1="428.0" x2="32.9" y2="428.0" stroke="#231f20" stroke-width="1.0"/>
<text x="26.60" y="430.30" font-size="6.5" stroke="#231f20" stroke-width="0.14" text-anchor="end">0</text>
<line x1="59.499999999999986" y1="431.3" x2="59.499999999999986" y2="434.3" stroke="#231f20" stroke-width="0.9"/>
<text x="59.50" y="443.30" font-size="6.3" stroke="#231f20" stroke-width="0.14" text-anchor="middle">-2</text>
<line x1="100.19999999999999" y1="431.3" x2="100.19999999999999" y2="434.3" stroke="#231f20" stroke-width="0.9"/>
<text x="100.20" y="443.30" font-size="6.3" stroke="#231f20" stroke-width="0.14" text-anchor="middle">0</text>
<line x1="140.89999999999998" y1="431.3" x2="140.89999999999998" y2="434.3" stroke="#231f20" stroke-width="0.9"/>
<text x="140.90" y="443.30" font-size="6.3" stroke="#231f20" stroke-width="0.14" text-anchor="middle">2</text>
<text x="100.20" y="454.60" font-size="8.2" stroke="#231f20" stroke-width="0.14" text-anchor="middle" textLength="55.5" lengthAdjust="spacingAndGlyphs">log2 (fold change)</text>
<text x="14.30" y="391.10" font-size="7.9" stroke="#231f20" stroke-width="0.14" text-anchor="middle" textLength="77.5" lengthAdjust="spacingAndGlyphs" transform="rotate(-90 14.30 391.10)">-log10 (adjusted <tspan font-style="italic">P</tspan> value)</text>
<text x="270.20" y="335.40" font-size="8.3" stroke="#231f20" stroke-width="0.14" text-anchor="middle" textLength="74.5" lengthAdjust="spacingAndGlyphs">Differential Binding</text>
<text x="270.20" y="345.40" font-size="8.3" stroke="#231f20" stroke-width="0.14" text-anchor="middle" textLength="38.9" lengthAdjust="spacingAndGlyphs">4D vs. WT</text>
<line x1="249.6" y1="351.1" x2="249.6" y2="431.3" stroke="#8c8c8c" stroke-width="1.0" stroke-dasharray="2 2" stroke-dashoffset="1.1"/>
<line x1="290.9" y1="351.1" x2="290.9" y2="431.3" stroke="#8c8c8c" stroke-width="1.0" stroke-dasharray="2 2" stroke-dashoffset="1.1"/>
<line x1="202.9" y1="418.75" x2="337.20000000000005" y2="418.75" stroke="#8c8c8c" stroke-width="1.0" stroke-dasharray="2 2" stroke-dashoffset="0.7"/>
<circle cx="252.64" cy="412.62" r="0.65" fill="#b4b4b4"/>
<circle cx="252.07" cy="413.31" r="0.65" fill="#b4b4b4"/>
<circle cx="252.52" cy="413.71" r="0.65" fill="#b4b4b4"/>
<circle cx="253.39" cy="414.68" r="0.65" fill="#b4b4b4"/>
<circle cx="253.65" cy="415.03" r="0.65" fill="#b4b4b4"/>
<circle cx="254.01" cy="415.58" r="0.65" fill="#b4b4b4"/>
<circle cx="254.31" cy="416.30" r="0.65" fill="#b4b4b4"/>
<circle cx="255.03" cy="416.84" r="0.65" fill="#b4b4b4"/>
<circle cx="254.84" cy="417.66" r="0.65" fill="#b4b4b4"/>
<circle cx="254.89" cy="418.76" r="0.65" fill="#b4b4b4"/>
<circle cx="254.87" cy="418.28" r="0.65" fill="#b4b4b4"/>
<circle cx="255.61" cy="419.04" r="0.65" fill="#b4b4b4"/>
<circle cx="256.43" cy="419.57" r="0.65" fill="#b4b4b4"/>
<circle cx="256.90" cy="420.03" r="0.65" fill="#b4b4b4"/>
<circle cx="258.04" cy="420.60" r="0.65" fill="#b4b4b4"/>
<circle cx="258.30" cy="420.91" r="0.65" fill="#b4b4b4"/>
<circle cx="258.69" cy="421.93" r="0.65" fill="#b4b4b4"/>
<circle cx="259.17" cy="421.94" r="0.65" fill="#b4b4b4"/>
<circle cx="259.46" cy="422.83" r="0.65" fill="#b4b4b4"/>
<circle cx="260.68" cy="423.05" r="0.65" fill="#b4b4b4"/>
<circle cx="260.43" cy="423.04" r="0.65" fill="#b4b4b4"/>
<circle cx="261.22" cy="423.85" r="0.65" fill="#b4b4b4"/>
<circle cx="261.54" cy="424.10" r="0.65" fill="#b4b4b4"/>
<circle cx="262.90" cy="424.45" r="0.65" fill="#b4b4b4"/>
<circle cx="263.20" cy="424.86" r="0.65" fill="#b4b4b4"/>
<circle cx="263.79" cy="425.09" r="0.65" fill="#b4b4b4"/>
<circle cx="264.62" cy="425.35" r="0.65" fill="#b4b4b4"/>
<circle cx="265.08" cy="425.72" r="0.65" fill="#b4b4b4"/>
<circle cx="266.24" cy="426.59" r="0.65" fill="#b4b4b4"/>
<circle cx="267.32" cy="426.59" r="0.65" fill="#b4b4b4"/>
<circle cx="266.60" cy="426.72" r="0.65" fill="#b4b4b4"/>
<circle cx="267.69" cy="426.73" r="0.65" fill="#b4b4b4"/>
<circle cx="268.29" cy="426.56" r="0.65" fill="#b4b4b4"/>
<circle cx="268.73" cy="426.75" r="0.65" fill="#b4b4b4"/>
<circle cx="269.37" cy="426.78" r="0.65" fill="#b4b4b4"/>
<circle cx="269.63" cy="427.48" r="0.65" fill="#b4b4b4"/>
<circle cx="270.22" cy="426.83" r="0.65" fill="#b4b4b4"/>
<circle cx="270.40" cy="427.32" r="0.65" fill="#b4b4b4"/>
<circle cx="271.42" cy="427.70" r="0.65" fill="#b4b4b4"/>
<circle cx="271.54" cy="426.88" r="0.65" fill="#b4b4b4"/>
<circle cx="271.19" cy="427.26" r="0.65" fill="#b4b4b4"/>
<circle cx="272.70" cy="427.14" r="0.65" fill="#b4b4b4"/>
<circle cx="273.19" cy="426.62" r="0.65" fill="#b4b4b4"/>
<circle cx="273.64" cy="426.55" r="0.65" fill="#b4b4b4"/>
<circle cx="274.75" cy="426.05" r="0.65" fill="#b4b4b4"/>
<circle cx="275.48" cy="425.99" r="0.65" fill="#b4b4b4"/>
<circle cx="276.06" cy="425.73" r="0.65" fill="#b4b4b4"/>
<circle cx="276.52" cy="425.63" r="0.65" fill="#b4b4b4"/>
<circle cx="276.78" cy="425.49" r="0.65" fill="#b4b4b4"/>
<circle cx="278.31" cy="424.71" r="0.65" fill="#b4b4b4"/>
<circle cx="278.50" cy="425.19" r="0.65" fill="#b4b4b4"/>
<circle cx="279.17" cy="424.17" r="0.65" fill="#b4b4b4"/>
<circle cx="280.11" cy="423.84" r="0.65" fill="#b4b4b4"/>
<circle cx="280.36" cy="423.47" r="0.65" fill="#b4b4b4"/>
<circle cx="279.90" cy="423.36" r="0.65" fill="#b4b4b4"/>
<circle cx="280.93" cy="423.40" r="0.65" fill="#b4b4b4"/>
<circle cx="281.65" cy="422.51" r="0.65" fill="#b4b4b4"/>
<circle cx="281.46" cy="422.71" r="0.65" fill="#b4b4b4"/>
<circle cx="282.35" cy="422.18" r="0.65" fill="#b4b4b4"/>
<circle cx="282.65" cy="422.09" r="0.65" fill="#b4b4b4"/>
<circle cx="283.74" cy="421.30" r="0.65" fill="#b4b4b4"/>
<circle cx="255.10" cy="428.32" r="0.6" fill="#b8b8b8"/>
<circle cx="256.21" cy="428.15" r="0.6" fill="#b8b8b8"/>
<circle cx="256.75" cy="428.16" r="0.6" fill="#b8b8b8"/>
<circle cx="256.72" cy="428.20" r="0.6" fill="#b8b8b8"/>
<circle cx="256.98" cy="428.28" r="0.6" fill="#b8b8b8"/>
<circle cx="257.93" cy="428.18" r="0.6" fill="#b8b8b8"/>
<circle cx="258.31" cy="428.23" r="0.6" fill="#b8b8b8"/>
<circle cx="259.07" cy="428.19" r="0.6" fill="#b8b8b8"/>
<circle cx="259.63" cy="428.21" r="0.6" fill="#b8b8b8"/>
<circle cx="259.95" cy="428.16" r="0.6" fill="#b8b8b8"/>
<circle cx="260.55" cy="428.28" r="0.6" fill="#b8b8b8"/>
<circle cx="260.93" cy="428.22" r="0.6" fill="#b8b8b8"/>
<circle cx="261.55" cy="428.21" r="0.6" fill="#b8b8b8"/>
<circle cx="262.09" cy="428.21" r="0.6" fill="#b8b8b8"/>
<circle cx="262.59" cy="428.31" r="0.6" fill="#b8b8b8"/>
<circle cx="263.22" cy="428.14" r="0.6" fill="#b8b8b8"/>
<circle cx="263.74" cy="428.23" r="0.6" fill="#b8b8b8"/>
<circle cx="264.26" cy="428.29" r="0.6" fill="#b8b8b8"/>
<circle cx="264.30" cy="428.22" r="0.6" fill="#b8b8b8"/>
<circle cx="265.02" cy="428.17" r="0.6" fill="#b8b8b8"/>
<circle cx="265.51" cy="428.41" r="0.6" fill="#b8b8b8"/>
<circle cx="266.03" cy="428.10" r="0.6" fill="#b8b8b8"/>
<circle cx="266.69" cy="428.32" r="0.6" fill="#b8b8b8"/>
<circle cx="267.13" cy="428.18" r="0.6" fill="#b8b8b8"/>
<circle cx="267.90" cy="428.21" r="0.6" fill="#b8b8b8"/>
<circle cx="268.62" cy="428.17" r="0.6" fill="#b8b8b8"/>
<circle cx="268.84" cy="428.18" r="0.6" fill="#b8b8b8"/>
<circle cx="269.70" cy="428.15" r="0.6" fill="#b8b8b8"/>
<circle cx="270.09" cy="428.30" r="0.6" fill="#b8b8b8"/>
<circle cx="270.37" cy="428.17" r="0.6" fill="#b8b8b8"/>
<circle cx="270.86" cy="428.14" r="0.6" fill="#b8b8b8"/>
<circle cx="271.56" cy="428.15" r="0.6" fill="#b8b8b8"/>
<circle cx="271.91" cy="428.03" r="0.6" fill="#b8b8b8"/>
<circle cx="272.73" cy="428.24" r="0.6" fill="#b8b8b8"/>
<circle cx="273.01" cy="428.03" r="0.6" fill="#b8b8b8"/>
<circle cx="273.44" cy="428.16" r="0.6" fill="#b8b8b8"/>
<circle cx="274.23" cy="428.22" r="0.6" fill="#b8b8b8"/>
<circle cx="274.31" cy="428.21" r="0.6" fill="#b8b8b8"/>
<circle cx="275.14" cy="428.14" r="0.6" fill="#b8b8b8"/>
<circle cx="275.75" cy="428.22" r="0.6" fill="#b8b8b8"/>
<circle cx="276.28" cy="428.18" r="0.6" fill="#b8b8b8"/>
<circle cx="276.67" cy="428.22" r="0.6" fill="#b8b8b8"/>
<circle cx="277.10" cy="428.17" r="0.6" fill="#b8b8b8"/>
<circle cx="277.45" cy="428.27" r="0.6" fill="#b8b8b8"/>
<circle cx="278.19" cy="428.33" r="0.6" fill="#b8b8b8"/>
<circle cx="278.62" cy="428.37" r="0.6" fill="#b8b8b8"/>
<circle cx="279.09" cy="428.18" r="0.6" fill="#b8b8b8"/>
<circle cx="279.86" cy="428.22" r="0.6" fill="#b8b8b8"/>
<circle cx="280.22" cy="428.32" r="0.6" fill="#b8b8b8"/>
<circle cx="281.15" cy="428.18" r="0.6" fill="#b8b8b8"/>
<rect x="202.90" y="351.10" width="134.30" height="80.20" fill="none" stroke="#231f20" stroke-width="1.3"/>
<line x1="199.70000000000002" y1="354.5" x2="202.9" y2="354.5" stroke="#231f20" stroke-width="1.0"/>
<text x="196.60" y="356.80" font-size="6.5" stroke="#231f20" stroke-width="0.14" text-anchor="end">10</text>
<line x1="199.70000000000002" y1="391.25" x2="202.9" y2="391.25" stroke="#231f20" stroke-width="1.0"/>
<text x="196.60" y="393.55" font-size="6.5" stroke="#231f20" stroke-width="0.14" text-anchor="end">5</text>
<line x1="199.70000000000002" y1="428.0" x2="202.9" y2="428.0" stroke="#231f20" stroke-width="1.0"/>
<text x="196.60" y="430.30" font-size="6.5" stroke="#231f20" stroke-width="0.14" text-anchor="end">0</text>
<line x1="229.5" y1="431.3" x2="229.5" y2="434.3" stroke="#231f20" stroke-width="0.9"/>
<text x="229.50" y="443.30" font-size="6.3" stroke="#231f20" stroke-width="0.14" text-anchor="middle">-2</text>
<line x1="270.2" y1="431.3" x2="270.2" y2="434.3" stroke="#231f20" stroke-width="0.9"/>
<text x="270.20" y="443.30" font-size="6.3" stroke="#231f20" stroke-width="0.14" text-anchor="middle">0</text>
<line x1="310.9" y1="431.3" x2="310.9" y2="434.3" stroke="#231f20" stroke-width="0.9"/>
<text x="310.90" y="443.30" font-size="6.3" stroke="#231f20" stroke-width="0.14" text-anchor="middle">2</text>
<text x="275.20" y="454.60" font-size="8.2" stroke="#231f20" stroke-width="0.14" text-anchor="middle" textLength="55.5" lengthAdjust="spacingAndGlyphs">log2 (fold change)</text>
<text x="184.30" y="391.10" font-size="7.9" stroke="#231f20" stroke-width="0.14" text-anchor="middle" textLength="77.5" lengthAdjust="spacingAndGlyphs" transform="rotate(-90 184.30 391.10)">-log10 (adjusted <tspan font-style="italic">P</tspan> value)</text>
<text x="440.20" y="335.40" font-size="8.3" stroke="#231f20" stroke-width="0.14" text-anchor="middle" textLength="74.5" lengthAdjust="spacingAndGlyphs">Differential Binding</text>
<text x="440.20" y="345.40" font-size="8.3" stroke="#231f20" stroke-width="0.14" text-anchor="middle" textLength="36.4" lengthAdjust="spacingAndGlyphs">4A vs. 4D</text>
<line x1="419.59999999999997" y1="351.1" x2="419.59999999999997" y2="431.3" stroke="#8c8c8c" stroke-width="1.0" stroke-dasharray="2 2" stroke-dashoffset="1.1"/>
<line x1="460.9" y1="351.1" x2="460.9" y2="431.3" stroke="#8c8c8c" stroke-width="1.0" stroke-dasharray="2 2" stroke-dashoffset="1.1"/>
<line x1="372.9" y1="418.75" x2="508.2" y2="418.75" stroke="#8c8c8c" stroke-width="1.0" stroke-dasharray="2 2" stroke-dashoffset="0.7"/>
<circle cx="419.89" cy="418.91" r="0.75" fill="#bdbdbd"/>
<circle cx="419.91" cy="419.55" r="0.75" fill="#bdbdbd"/>
<circle cx="420.84" cy="418.57" r="0.75" fill="#bdbdbd"/>
<circle cx="420.28" cy="419.24" r="0.75" fill="#bdbdbd"/>
<circle cx="421.85" cy="420.23" r="0.75" fill="#bdbdbd"/>
<circle cx="421.39" cy="420.16" r="0.75" fill="#bdbdbd"/>
<circle cx="422.41" cy="420.54" r="0.75" fill="#bdbdbd"/>
<circle cx="423.22" cy="420.04" r="0.75" fill="#bdbdbd"/>
<circle cx="424.00" cy="420.08" r="0.75" fill="#bdbdbd"/>
<circle cx="424.89" cy="420.11" r="0.75" fill="#bdbdbd"/>
<circle cx="424.28" cy="421.08" r="0.75" fill="#bdbdbd"/>
<circle cx="424.92" cy="421.56" r="0.75" fill="#bdbdbd"/>
<circle cx="425.86" cy="421.32" r="0.75" fill="#bdbdbd"/>
<circle cx="426.63" cy="422.26" r="0.75" fill="#bdbdbd"/>
<circle cx="426.46" cy="421.80" r="0.75" fill="#bdbdbd"/>
<circle cx="427.42" cy="422.16" r="0.75" fill="#bdbdbd"/>
<circle cx="428.02" cy="422.59" r="0.75" fill="#bdbdbd"/>
<circle cx="428.87" cy="422.34" r="0.75" fill="#bdbdbd"/>
<circle cx="429.08" cy="423.02" r="0.75" fill="#bdbdbd"/>
<circle cx="429.58" cy="424.16" r="0.75" fill="#bdbdbd"/>
<circle cx="429.79" cy="423.18" r="0.75" fill="#bdbdbd"/>
<circle cx="430.12" cy="423.34" r="0.75" fill="#bdbdbd"/>
<circle cx="431.33" cy="424.27" r="0.75" fill="#bdbdbd"/>
<circle cx="431.70" cy="424.03" r="0.75" fill="#bdbdbd"/>
<circle cx="432.53" cy="423.86" r="0.75" fill="#bdbdbd"/>
<circle cx="432.86" cy="424.74" r="0.75" fill="#bdbdbd"/>
<circle cx="433.36" cy="424.62" r="0.75" fill="#bdbdbd"/>
<circle cx="434.25" cy="424.70" r="0.75" fill="#bdbdbd"/>
<circle cx="434.20" cy="425.66" r="0.75" fill="#bdbdbd"/>
<circle cx="434.88" cy="425.62" r="0.75" fill="#bdbdbd"/>
<circle cx="435.11" cy="425.58" r="0.75" fill="#bdbdbd"/>
<circle cx="435.90" cy="425.72" r="0.75" fill="#bdbdbd"/>
<circle cx="436.85" cy="426.18" r="0.75" fill="#bdbdbd"/>
<circle cx="438.12" cy="426.37" r="0.75" fill="#bdbdbd"/>
<circle cx="438.16" cy="426.41" r="0.75" fill="#bdbdbd"/>
<circle cx="438.71" cy="427.75" r="0.75" fill="#bdbdbd"/>
<circle cx="438.49" cy="426.82" r="0.75" fill="#bdbdbd"/>
<circle cx="439.57" cy="426.13" r="0.75" fill="#bdbdbd"/>
<circle cx="440.00" cy="426.83" r="0.75" fill="#bdbdbd"/>
<circle cx="440.72" cy="427.21" r="0.75" fill="#bdbdbd"/>
<circle cx="440.61" cy="427.70" r="0.75" fill="#bdbdbd"/>
<circle cx="441.14" cy="427.86" r="0.75" fill="#bdbdbd"/>
<circle cx="441.94" cy="427.58" r="0.75" fill="#bdbdbd"/>
<circle cx="442.09" cy="425.95" r="0.75" fill="#bdbdbd"/>
<circle cx="442.42" cy="426.63" r="0.75" fill="#bdbdbd"/>
<circle cx="443.51" cy="426.38" r="0.75" fill="#bdbdbd"/>
<circle cx="443.24" cy="426.03" r="0.75" fill="#bdbdbd"/>
<circle cx="444.33" cy="425.58" r="0.75" fill="#bdbdbd"/>
<circle cx="444.31" cy="424.87" r="0.75" fill="#bdbdbd"/>
<circle cx="445.82" cy="425.39" r="0.75" fill="#bdbdbd"/>
<circle cx="445.78" cy="425.33" r="0.75" fill="#bdbdbd"/>
<circle cx="446.78" cy="425.21" r="0.75" fill="#bdbdbd"/>
<circle cx="447.00" cy="424.86" r="0.75" fill="#bdbdbd"/>
<circle cx="446.97" cy="424.08" r="0.75" fill="#bdbdbd"/>
<circle cx="448.32" cy="424.15" r="0.75" fill="#bdbdbd"/>
<circle cx="448.03" cy="423.54" r="0.75" fill="#bdbdbd"/>
<circle cx="448.82" cy="423.52" r="0.75" fill="#bdbdbd"/>
<circle cx="449.98" cy="422.90" r="0.75" fill="#bdbdbd"/>
<circle cx="449.68" cy="422.15" r="0.75" fill="#bdbdbd"/>
<circle cx="450.42" cy="422.56" r="0.75" fill="#bdbdbd"/>
<circle cx="450.68" cy="422.68" r="0.75" fill="#bdbdbd"/>
<circle cx="450.76" cy="421.62" r="0.75" fill="#bdbdbd"/>
<circle cx="452.55" cy="422.70" r="0.75" fill="#bdbdbd"/>
<circle cx="451.91" cy="422.63" r="0.75" fill="#bdbdbd"/>
<circle cx="453.53" cy="421.86" r="0.75" fill="#bdbdbd"/>
<circle cx="453.55" cy="421.55" r="0.75" fill="#bdbdbd"/>
<circle cx="454.06" cy="421.64" r="0.75" fill="#bdbdbd"/>
<circle cx="454.64" cy="421.55" r="0.75" fill="#bdbdbd"/>
<circle cx="455.13" cy="420.53" r="0.75" fill="#bdbdbd"/>
<circle cx="455.88" cy="420.52" r="0.75" fill="#bdbdbd"/>
<circle cx="455.85" cy="420.10" r="0.75" fill="#bdbdbd"/>
<circle cx="456.54" cy="419.23" r="0.75" fill="#bdbdbd"/>
<circle cx="457.58" cy="419.72" r="0.75" fill="#bdbdbd"/>
<circle cx="457.60" cy="419.73" r="0.75" fill="#bdbdbd"/>
<circle cx="457.94" cy="419.33" r="0.75" fill="#bdbdbd"/>
<circle cx="458.97" cy="418.70" r="0.75" fill="#bdbdbd"/>
<circle cx="459.61" cy="417.75" r="0.75" fill="#bdbdbd"/>
<circle cx="459.62" cy="418.42" r="0.75" fill="#bdbdbd"/>
<circle cx="461.57" cy="419.00" r="0.75" fill="#bdbdbd"/>
<circle cx="460.74" cy="417.86" r="0.75" fill="#bdbdbd"/>
<circle cx="424.97" cy="428.19" r="0.6" fill="#c4c4c4"/>
<circle cx="425.48" cy="428.19" r="0.6" fill="#c4c4c4"/>
<circle cx="426.14" cy="428.16" r="0.6" fill="#c4c4c4"/>
<circle cx="426.33" cy="428.29" r="0.6" fill="#c4c4c4"/>
<circle cx="427.31" cy="428.30" r="0.6" fill="#c4c4c4"/>
<circle cx="427.69" cy="428.17" r="0.6" fill="#c4c4c4"/>
<circle cx="428.37" cy="428.17" r="0.6" fill="#c4c4c4"/>
<circle cx="429.25" cy="428.20" r="0.6" fill="#c4c4c4"/>
<circle cx="429.79" cy="428.23" r="0.6" fill="#c4c4c4"/>
<circle cx="430.00" cy="428.22" r="0.6" fill="#c4c4c4"/>
<circle cx="430.97" cy="428.26" r="0.6" fill="#c4c4c4"/>
<circle cx="431.45" cy="428.17" r="0.6" fill="#c4c4c4"/>
<circle cx="431.89" cy="428.17" r="0.6" fill="#c4c4c4"/>
<circle cx="433.04" cy="428.26" r="0.6" fill="#c4c4c4"/>
<circle cx="433.28" cy="428.23" r="0.6" fill="#c4c4c4"/>
<circle cx="434.16" cy="428.20" r="0.6" fill="#c4c4c4"/>
<circle cx="434.62" cy="428.27" r="0.6" fill="#c4c4c4"/>
<circle cx="435.03" cy="428.22" r="0.6" fill="#c4c4c4"/>
<circle cx="435.27" cy="428.11" r="0.6" fill="#c4c4c4"/>
<circle cx="436.40" cy="428.35" r="0.6" fill="#c4c4c4"/>
<circle cx="436.97" cy="428.23" r="0.6" fill="#c4c4c4"/>
<circle cx="437.50" cy="428.19" r="0.6" fill="#c4c4c4"/>
<circle cx="437.70" cy="428.24" r="0.6" fill="#c4c4c4"/>
<circle cx="438.90" cy="428.26" r="0.6" fill="#c4c4c4"/>
<circle cx="438.98" cy="428.32" r="0.6" fill="#c4c4c4"/>
<circle cx="439.54" cy="428.20" r="0.6" fill="#c4c4c4"/>
<circle cx="440.72" cy="428.19" r="0.6" fill="#c4c4c4"/>
<circle cx="441.02" cy="428.06" r="0.6" fill="#c4c4c4"/>
<circle cx="441.46" cy="428.27" r="0.6" fill="#c4c4c4"/>
<circle cx="442.27" cy="428.18" r="0.6" fill="#c4c4c4"/>
<circle cx="442.55" cy="428.31" r="0.6" fill="#c4c4c4"/>
<circle cx="443.41" cy="428.20" r="0.6" fill="#c4c4c4"/>
<circle cx="443.68" cy="428.24" r="0.6" fill="#c4c4c4"/>
<circle cx="444.43" cy="428.19" r="0.6" fill="#c4c4c4"/>
<circle cx="445.11" cy="428.23" r="0.6" fill="#c4c4c4"/>
<circle cx="445.65" cy="428.14" r="0.6" fill="#c4c4c4"/>
<circle cx="446.60" cy="428.25" r="0.6" fill="#c4c4c4"/>
<circle cx="447.08" cy="428.28" r="0.6" fill="#c4c4c4"/>
<circle cx="447.52" cy="428.17" r="0.6" fill="#c4c4c4"/>
<circle cx="448.41" cy="428.25" r="0.6" fill="#c4c4c4"/>
<circle cx="448.68" cy="428.21" r="0.6" fill="#c4c4c4"/>
<circle cx="448.98" cy="428.22" r="0.6" fill="#c4c4c4"/>
<circle cx="449.74" cy="428.19" r="0.6" fill="#c4c4c4"/>
<circle cx="450.24" cy="428.37" r="0.6" fill="#c4c4c4"/>
<circle cx="451.08" cy="428.20" r="0.6" fill="#c4c4c4"/>
<circle cx="451.55" cy="428.16" r="0.6" fill="#c4c4c4"/>
<circle cx="452.20" cy="428.27" r="0.6" fill="#c4c4c4"/>
<circle cx="452.95" cy="428.34" r="0.6" fill="#c4c4c4"/>
<circle cx="453.31" cy="428.22" r="0.6" fill="#c4c4c4"/>
<circle cx="454.21" cy="428.23" r="0.6" fill="#c4c4c4"/>
<circle cx="402.29" cy="414.60" r="0.9" fill="#b0183c"/>
<circle cx="402.67" cy="415.33" r="0.9" fill="#b0183c"/>
<circle cx="402.76" cy="415.57" r="0.9" fill="#b0183c"/>
<circle cx="403.15" cy="414.89" r="0.9" fill="#b0183c"/>
<circle cx="403.78" cy="415.22" r="0.9" fill="#b0183c"/>
<circle cx="403.73" cy="414.31" r="0.9" fill="#b0183c"/>
<circle cx="404.67" cy="415.21" r="0.9" fill="#b0183c"/>
<circle cx="405.05" cy="415.79" r="0.9" fill="#b0183c"/>
<circle cx="405.31" cy="415.10" r="0.9" fill="#b0183c"/>
<circle cx="405.91" cy="415.17" r="0.9" fill="#b0183c"/>
<circle cx="406.51" cy="414.71" r="0.9" fill="#b0183c"/>
<circle cx="406.28" cy="414.08" r="0.9" fill="#b0183c"/>
<circle cx="407.02" cy="415.03" r="0.9" fill="#b0183c"/>
<circle cx="407.43" cy="415.82" r="0.9" fill="#b0183c"/>
<circle cx="407.53" cy="415.12" r="0.9" fill="#b0183c"/>
<circle cx="407.76" cy="414.98" r="0.9" fill="#b0183c"/>
<circle cx="408.11" cy="415.45" r="0.9" fill="#b0183c"/>
<circle cx="408.69" cy="415.31" r="0.9" fill="#b0183c"/>
<circle cx="409.01" cy="415.59" r="0.9" fill="#b0183c"/>
<circle cx="409.59" cy="415.30" r="0.9" fill="#b0183c"/>
<circle cx="410.02" cy="415.33" r="0.9" fill="#b0183c"/>
<circle cx="409.85" cy="415.84" r="0.9" fill="#b0183c"/>
<circle cx="409.64" cy="415.71" r="0.9" fill="#b0183c"/>
<circle cx="410.32" cy="416.17" r="0.9" fill="#b0183c"/>
<circle cx="410.03" cy="416.62" r="0.9" fill="#b0183c"/>
<circle cx="411.10" cy="416.48" r="0.9" fill="#b0183c"/>
<circle cx="411.56" cy="416.24" r="0.9" fill="#b0183c"/>
<circle cx="411.54" cy="416.64" r="0.9" fill="#b0183c"/>
<circle cx="412.51" cy="416.34" r="0.9" fill="#b0183c"/>
<circle cx="413.11" cy="416.52" r="0.9" fill="#b0183c"/>
<circle cx="413.70" cy="416.45" r="0.9" fill="#b0183c"/>
<circle cx="413.99" cy="415.99" r="0.9" fill="#b0183c"/>
<circle cx="414.37" cy="416.91" r="0.9" fill="#b0183c"/>
<circle cx="415.40" cy="416.67" r="0.9" fill="#b0183c"/>
<circle cx="415.46" cy="417.32" r="0.9" fill="#b0183c"/>
<circle cx="415.90" cy="417.14" r="0.9" fill="#b0183c"/>
<circle cx="417.00" cy="417.00" r="0.9" fill="#b0183c"/>
<circle cx="417.37" cy="416.85" r="0.9" fill="#b0183c"/>
<circle cx="417.56" cy="417.11" r="0.9" fill="#b0183c"/>
<circle cx="418.03" cy="417.54" r="0.9" fill="#b0183c"/>
<circle cx="462.42" cy="418.33" r="0.9" fill="#b0183c"/>
<circle cx="462.06" cy="418.69" r="0.9" fill="#b0183c"/>
<circle cx="462.45" cy="418.58" r="0.9" fill="#b0183c"/>
<circle cx="463.47" cy="418.16" r="0.9" fill="#b0183c"/>
<circle cx="463.99" cy="417.54" r="0.9" fill="#b0183c"/>
<circle cx="464.59" cy="417.43" r="0.9" fill="#b0183c"/>
<circle cx="464.68" cy="417.71" r="0.9" fill="#b0183c"/>
<circle cx="465.30" cy="418.17" r="0.9" fill="#b0183c"/>
<circle cx="465.98" cy="417.56" r="0.9" fill="#b0183c"/>
<circle cx="466.65" cy="418.24" r="0.9" fill="#b0183c"/>
<circle cx="467.02" cy="417.64" r="0.9" fill="#b0183c"/>
<circle cx="467.92" cy="417.49" r="0.9" fill="#b0183c"/>
<circle cx="467.69" cy="418.27" r="0.9" fill="#b0183c"/>
<circle cx="469.27" cy="416.37" r="0.9" fill="#b0183c"/>
<circle cx="469.13" cy="417.22" r="0.9" fill="#b0183c"/>
<circle cx="469.96" cy="417.21" r="0.9" fill="#b0183c"/>
<circle cx="470.12" cy="416.41" r="0.9" fill="#b0183c"/>
<circle cx="470.77" cy="417.13" r="0.9" fill="#b0183c"/>
<circle cx="470.94" cy="416.20" r="0.9" fill="#b0183c"/>
<circle cx="471.79" cy="415.73" r="0.9" fill="#b0183c"/>
<circle cx="383.30" cy="357.80" r="0.9" fill="#8e1a33"/>
<circle cx="382.50" cy="390.40" r="0.9" fill="#8e1a33"/>
<circle cx="378.40" cy="402.40" r="0.9" fill="#8e1a33"/>
<circle cx="384.90" cy="401.60" r="0.9" fill="#8e1a33"/>
<circle cx="394.30" cy="396.80" r="0.9" fill="#8e1a33"/>
<circle cx="393.80" cy="400.20" r="0.9" fill="#8e1a33"/>
<circle cx="413.00" cy="394.00" r="0.9" fill="#8e1a33"/>
<circle cx="389.70" cy="404.20" r="0.9" fill="#8e1a33"/>
<circle cx="395.00" cy="404.60" r="0.9" fill="#8e1a33"/>
<circle cx="400.10" cy="403.90" r="0.9" fill="#8e1a33"/>
<circle cx="403.70" cy="402.10" r="0.9" fill="#8e1a33"/>
<circle cx="406.80" cy="402.70" r="0.9" fill="#8e1a33"/>
<circle cx="416.50" cy="403.90" r="0.9" fill="#8e1a33"/>
<circle cx="391.10" cy="407.20" r="0.9" fill="#8e1a33"/>
<circle cx="393.80" cy="406.70" r="0.9" fill="#8e1a33"/>
<circle cx="396.20" cy="407.60" r="0.9" fill="#8e1a33"/>
<circle cx="400.80" cy="407.20" r="0.9" fill="#8e1a33"/>
<circle cx="393.80" cy="409.50" r="0.9" fill="#8e1a33"/>
<circle cx="397.50" cy="409.00" r="0.9" fill="#8e1a33"/>
<circle cx="401.20" cy="408.50" r="0.9" fill="#8e1a33"/>
<circle cx="408.60" cy="409.20" r="0.9" fill="#8e1a33"/>
<circle cx="413.90" cy="409.70" r="0.9" fill="#8e1a33"/>
<circle cx="397.50" cy="412.00" r="0.9" fill="#8e1a33"/>
<circle cx="399.80" cy="412.50" r="0.9" fill="#8e1a33"/>
<circle cx="419.20" cy="415.00" r="0.9" fill="#8e1a33"/>
<circle cx="498.20" cy="396.80" r="0.9" fill="#8e1a33"/>
<circle cx="476.00" cy="404.00" r="0.9" fill="#8e1a33"/>
<circle cx="480.90" cy="403.30" r="0.9" fill="#8e1a33"/>
<circle cx="486.20" cy="407.20" r="0.9" fill="#8e1a33"/>
<circle cx="488.00" cy="409.40" r="0.9" fill="#8e1a33"/>
<circle cx="483.70" cy="411.20" r="0.9" fill="#8e1a33"/>
<circle cx="480.20" cy="411.40" r="0.9" fill="#8e1a33"/>
<circle cx="480.20" cy="414.00" r="0.9" fill="#8e1a33"/>
<circle cx="477.80" cy="414.20" r="0.9" fill="#8e1a33"/>
<circle cx="475.50" cy="415.10" r="0.9" fill="#8e1a33"/>
<circle cx="471.80" cy="412.80" r="0.9" fill="#8e1a33"/>
<circle cx="467.70" cy="414.20" r="0.9" fill="#8e1a33"/>
<circle cx="463.50" cy="416.50" r="0.9" fill="#8e1a33"/>
<circle cx="470.00" cy="416.90" r="0.9" fill="#8e1a33"/>
<rect x="372.90" y="351.10" width="135.30" height="80.20" fill="none" stroke="#231f20" stroke-width="1.3"/>
<line x1="369.7" y1="354.5" x2="372.9" y2="354.5" stroke="#231f20" stroke-width="1.0"/>
<text x="366.60" y="356.80" font-size="6.5" stroke="#231f20" stroke-width="0.14" text-anchor="end">10</text>
<line x1="369.7" y1="391.25" x2="372.9" y2="391.25" stroke="#231f20" stroke-width="1.0"/>
<text x="366.60" y="393.55" font-size="6.5" stroke="#231f20" stroke-width="0.14" text-anchor="end">5</text>
<line x1="369.7" y1="428.0" x2="372.9" y2="428.0" stroke="#231f20" stroke-width="1.0"/>
<text x="366.60" y="430.30" font-size="6.5" stroke="#231f20" stroke-width="0.14" text-anchor="end">0</text>
<line x1="399.5" y1="431.3" x2="399.5" y2="434.3" stroke="#231f20" stroke-width="0.9"/>
<text x="399.50" y="443.30" font-size="6.3" stroke="#231f20" stroke-width="0.14" text-anchor="middle">-2</text>
<line x1="440.2" y1="431.3" x2="440.2" y2="434.3" stroke="#231f20" stroke-width="0.9"/>
<text x="440.20" y="443.30" font-size="6.3" stroke="#231f20" stroke-width="0.14" text-anchor="middle">0</text>
<line x1="480.9" y1="431.3" x2="480.9" y2="434.3" stroke="#231f20" stroke-width="0.9"/>
<text x="480.90" y="443.30" font-size="6.3" stroke="#231f20" stroke-width="0.14" text-anchor="middle">2</text>
<text x="441.20" y="454.60" font-size="8.2" stroke="#231f20" stroke-width="0.14" text-anchor="middle" textLength="55.5" lengthAdjust="spacingAndGlyphs">log2 (fold change)</text>
<text x="354.30" y="391.10" font-size="7.9" stroke="#231f20" stroke-width="0.14" text-anchor="middle" textLength="77.5" lengthAdjust="spacingAndGlyphs" transform="rotate(-90 354.30 391.10)">-log10 (adjusted <tspan font-style="italic">P</tspan> value)</text>
</g>
</svg></body></html>
